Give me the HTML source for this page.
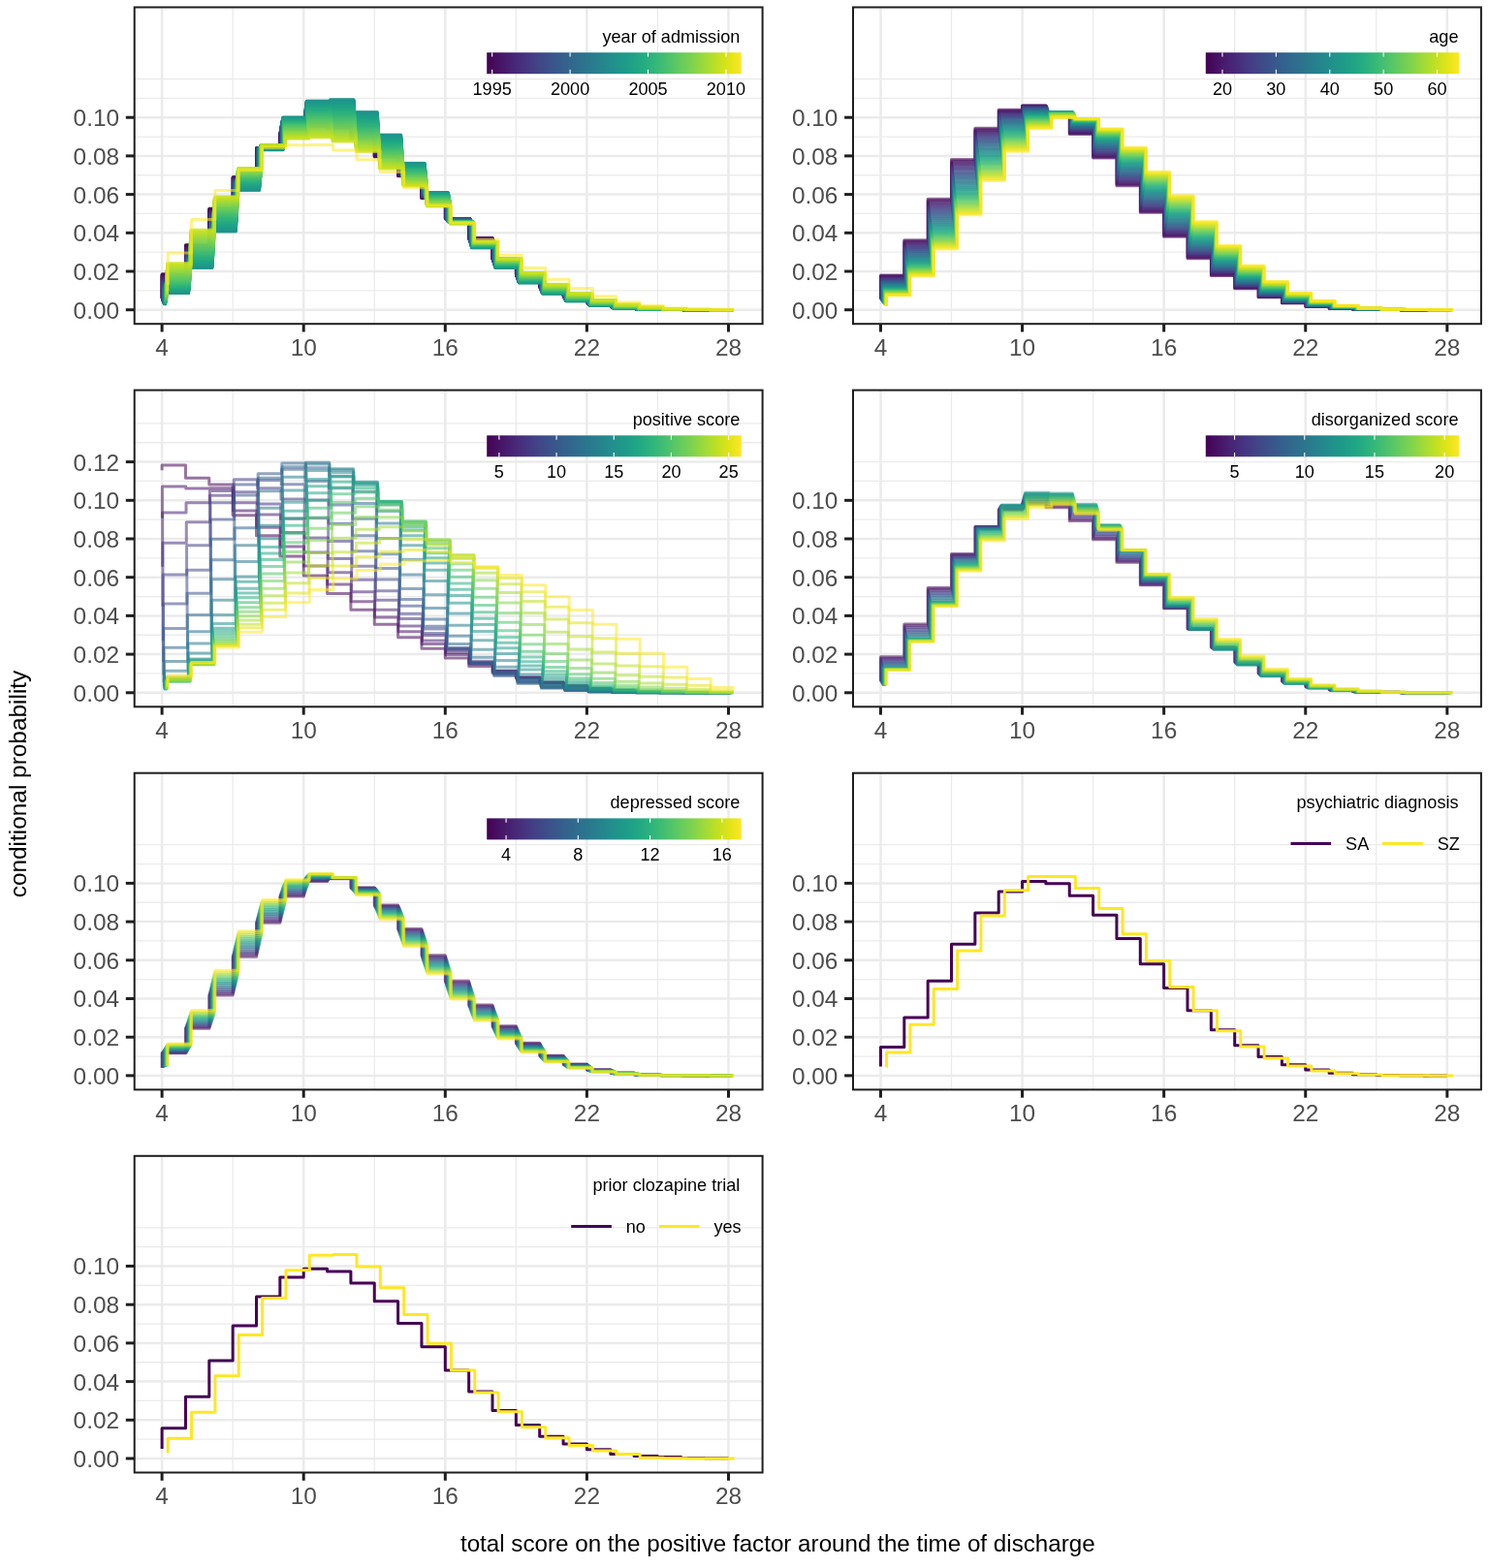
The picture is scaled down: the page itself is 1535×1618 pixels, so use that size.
<!DOCTYPE html><html><head><meta charset="utf-8"><style>html,body{margin:0;padding:0;background:#fff;}svg{display:block}</style></head><body>
<svg width="1535" height="1618" viewBox="0 0 1535 1618" font-family="'Liberation Sans', Arial, Helvetica, sans-serif">
<defs><linearGradient id="vir" x1="0" x2="1" y1="0" y2="0">
<stop offset="0.000" stop-color="#440154"/>
<stop offset="0.050" stop-color="#471365"/>
<stop offset="0.100" stop-color="#482475"/>
<stop offset="0.150" stop-color="#463480"/>
<stop offset="0.200" stop-color="#414487"/>
<stop offset="0.250" stop-color="#3B528B"/>
<stop offset="0.300" stop-color="#355F8D"/>
<stop offset="0.350" stop-color="#2F6C8E"/>
<stop offset="0.400" stop-color="#2A788E"/>
<stop offset="0.450" stop-color="#25848E"/>
<stop offset="0.500" stop-color="#21918C"/>
<stop offset="0.550" stop-color="#1E9C89"/>
<stop offset="0.600" stop-color="#22A884"/>
<stop offset="0.650" stop-color="#2FB47C"/>
<stop offset="0.700" stop-color="#44BF70"/>
<stop offset="0.750" stop-color="#5EC962"/>
<stop offset="0.800" stop-color="#7AD151"/>
<stop offset="0.850" stop-color="#9BD93C"/>
<stop offset="0.900" stop-color="#BDDF26"/>
<stop offset="0.950" stop-color="#DFE318"/>
<stop offset="1.000" stop-color="#FDE725"/>
</linearGradient>
<clipPath id="cp0"><rect x="138.70" y="7.50" width="647.90" height="326.70"/></clipPath>
<clipPath id="cp1"><rect x="880.00" y="7.50" width="647.90" height="326.70"/></clipPath>
<clipPath id="cp2"><rect x="138.70" y="402.60" width="647.90" height="326.70"/></clipPath>
<clipPath id="cp3"><rect x="880.00" y="402.60" width="647.90" height="326.70"/></clipPath>
<clipPath id="cp4"><rect x="138.70" y="797.70" width="647.90" height="326.70"/></clipPath>
<clipPath id="cp5"><rect x="880.00" y="797.70" width="647.90" height="326.70"/></clipPath>
<clipPath id="cp6"><rect x="138.70" y="1192.80" width="647.90" height="326.70"/></clipPath>
</defs>
<rect width="1535" height="1618" fill="#fff"/>
<g clip-path="url(#cp0)">
<line x1="138.70" x2="786.60" y1="299.85" y2="299.85" stroke="#EBEBEB" stroke-width="1.3"/>
<line x1="138.70" x2="786.60" y1="260.15" y2="260.15" stroke="#EBEBEB" stroke-width="1.3"/>
<line x1="138.70" x2="786.60" y1="220.45" y2="220.45" stroke="#EBEBEB" stroke-width="1.3"/>
<line x1="138.70" x2="786.60" y1="180.75" y2="180.75" stroke="#EBEBEB" stroke-width="1.3"/>
<line x1="138.70" x2="786.60" y1="141.05" y2="141.05" stroke="#EBEBEB" stroke-width="1.3"/>
<line x1="138.70" x2="786.60" y1="101.35" y2="101.35" stroke="#EBEBEB" stroke-width="1.3"/>
<line x1="138.70" x2="786.60" y1="81.50" y2="81.50" stroke="#EBEBEB" stroke-width="1.3"/>
<line x1="240.15" x2="240.15" y1="7.50" y2="334.20" stroke="#EBEBEB" stroke-width="1.3"/>
<line x1="386.25" x2="386.25" y1="7.50" y2="334.20" stroke="#EBEBEB" stroke-width="1.3"/>
<line x1="532.35" x2="532.35" y1="7.50" y2="334.20" stroke="#EBEBEB" stroke-width="1.3"/>
<line x1="678.45" x2="678.45" y1="7.50" y2="334.20" stroke="#EBEBEB" stroke-width="1.3"/>
<line x1="138.70" x2="786.60" y1="319.70" y2="319.70" stroke="#EBEBEB" stroke-width="2.5"/>
<line x1="138.70" x2="786.60" y1="280.00" y2="280.00" stroke="#EBEBEB" stroke-width="2.5"/>
<line x1="138.70" x2="786.60" y1="240.30" y2="240.30" stroke="#EBEBEB" stroke-width="2.5"/>
<line x1="138.70" x2="786.60" y1="200.60" y2="200.60" stroke="#EBEBEB" stroke-width="2.5"/>
<line x1="138.70" x2="786.60" y1="160.90" y2="160.90" stroke="#EBEBEB" stroke-width="2.5"/>
<line x1="138.70" x2="786.60" y1="121.20" y2="121.20" stroke="#EBEBEB" stroke-width="2.5"/>
<line x1="167.10" x2="167.10" y1="7.50" y2="334.20" stroke="#EBEBEB" stroke-width="2.5"/>
<line x1="313.20" x2="313.20" y1="7.50" y2="334.20" stroke="#EBEBEB" stroke-width="2.5"/>
<line x1="459.30" x2="459.30" y1="7.50" y2="334.20" stroke="#EBEBEB" stroke-width="2.5"/>
<line x1="605.40" x2="605.40" y1="7.50" y2="334.20" stroke="#EBEBEB" stroke-width="2.5"/>
<line x1="751.50" x2="751.50" y1="7.50" y2="334.20" stroke="#EBEBEB" stroke-width="2.5"/>
<text x="763.30" y="43.80" font-size="18.1" text-anchor="end" fill="#000">year of admission</text>
<rect x="502.20" y="54.20" width="262.50" height="22.00" fill="url(#vir)"/>
<line x1="507.67" x2="507.67" y1="54.20" y2="58.60" stroke="#fff" stroke-width="1.1"/>
<line x1="507.67" x2="507.67" y1="71.80" y2="76.20" stroke="#fff" stroke-width="1.1"/>
<text x="507.67" y="97.90" font-size="18.1" text-anchor="middle" fill="#000">1995</text>
<line x1="588.09" x2="588.09" y1="54.20" y2="58.60" stroke="#fff" stroke-width="1.1"/>
<line x1="588.09" x2="588.09" y1="71.80" y2="76.20" stroke="#fff" stroke-width="1.1"/>
<text x="588.09" y="97.90" font-size="18.1" text-anchor="middle" fill="#000">2000</text>
<line x1="668.51" x2="668.51" y1="54.20" y2="58.60" stroke="#fff" stroke-width="1.1"/>
<line x1="668.51" x2="668.51" y1="71.80" y2="76.20" stroke="#fff" stroke-width="1.1"/>
<text x="668.51" y="97.90" font-size="18.1" text-anchor="middle" fill="#000">2005</text>
<line x1="748.94" x2="748.94" y1="54.20" y2="58.60" stroke="#fff" stroke-width="1.1"/>
<line x1="748.94" x2="748.94" y1="71.80" y2="76.20" stroke="#fff" stroke-width="1.1"/>
<text x="748.94" y="97.90" font-size="18.1" text-anchor="middle" fill="#000">2010</text>
<g fill="none" stroke-width="3.00" stroke-linejoin="round" stroke-opacity="0.55"><path d="M167.10 307.41V282.72H191.45V252.61H215.80V215.09H240.15V182.73H264.50V152.96H288.85V138.44H313.20V130.93H337.55V132.89H361.90V143.06H386.25V161.89H410.60V181.74H434.95V204.57H459.30V225.41H483.65V245.46H508.00V266.91H532.35V282.89H556.70V295.48H581.05V304.82H605.40V311.27H629.75V315.40H654.10V317.78H678.45V318.99H702.80V319.50H727.15V319.67H751.50" stroke="#440154"/><path d="M167.14 307.56V283.03H191.49V252.94H215.84V215.38H240.19V182.86H264.54V152.93H288.89V138.19H313.24V130.58H337.59V132.51H361.94V142.72H386.29V161.60H410.64V181.56H434.99V204.47H459.34V225.43H483.69V245.57H508.04V267.02H532.39V283.01H556.74V295.59H581.09V304.91H605.44V311.34H629.79V315.45H654.14V317.81H678.49V319.00H702.84V319.51H727.19V319.67H751.54" stroke="#440256"/><path d="M167.18 307.71V283.34H191.53V253.28H215.88V215.67H240.23V182.99H264.58V152.91H288.93V137.94H313.28V130.23H337.63V132.13H361.98V142.37H386.33V161.30H410.68V181.37H435.03V204.38H459.38V225.44H483.73V245.68H508.08V267.13H532.43V283.13H556.78V295.70H581.13V305.01H605.48V311.41H629.83V315.49H654.18V317.84H678.53V319.02H702.88V319.51H727.23V319.67H751.58" stroke="#450559"/><path d="M167.21 307.86V283.66H191.56V253.61H215.91V215.96H240.26V183.12H264.61V152.88H288.96V137.69H313.31V129.87H337.66V131.75H362.01V142.03H386.36V161.01H410.71V181.19H435.06V204.28H459.41V225.46H483.76V245.79H508.11V267.25H532.46V283.24H556.81V295.81H581.16V305.10H605.51V311.48H629.86V315.54H654.21V317.87H678.56V319.03H702.91V319.52H727.26V319.67H751.61" stroke="#46075A"/><path d="M167.25 308.00V283.97H191.60V253.94H215.95V216.25H240.30V183.26H264.65V152.86H289.00V137.44H313.35V129.52H337.70V131.37H362.05V141.68H386.40V160.72H410.75V181.00H435.10V204.18H459.45V225.47H483.80V245.90H508.15V267.36H532.50V283.36H556.85V295.92H581.20V305.20H605.55V311.55H629.90V315.59H654.25V317.90H678.60V319.04H702.95V319.52H727.30V319.67H751.65" stroke="#460A5D"/><path d="M167.29 308.15V284.27H191.64V254.27H215.99V216.54H240.34V183.39H264.69V152.84H289.04V137.19H313.39V129.17H337.74V130.99H362.09V141.34H386.44V160.42H410.79V180.82H435.14V204.09H459.49V225.49H483.84V246.01H508.19V267.47H532.54V283.48H556.89V296.03H581.24V305.29H605.59V311.62H629.94V315.64H654.29V317.92H678.64V319.06H702.99V319.53H727.34V319.67H751.69" stroke="#460B5E"/><path d="M167.33 308.29V284.58H191.68V254.60H216.03V216.83H240.38V183.53H264.73V152.82H289.08V136.94H313.43V128.82H337.78V130.61H362.13V140.99H386.48V160.13H410.83V180.63H435.18V204.00H459.53V225.51H483.88V246.12H508.23V267.58H532.58V283.60H556.93V296.14H581.28V305.39H605.63V311.69H629.98V315.69H654.33V317.95H678.68V319.07H703.03V319.53H727.38V319.67H751.73" stroke="#470E61"/><path d="M167.36 308.43V284.88H191.71V254.94H216.06V217.12H240.41V183.66H264.76V152.80H289.11V136.70H313.46V128.47H337.81V130.22H362.16V140.65H386.51V159.84H410.86V180.45H435.21V203.90H459.56V225.53H483.91V246.23H508.26V267.69H532.61V283.71H556.96V296.25H581.31V305.48H605.66V311.75H630.01V315.73H654.36V317.98H678.71V319.08H703.06V319.53H727.41V319.67H751.76" stroke="#471164"/><path d="M167.40 308.57V285.19H191.75V255.26H216.10V217.41H240.45V183.80H264.80V152.78H289.15V136.45H313.50V128.12H337.85V129.84H362.20V140.30H386.55V159.55H410.90V180.27H435.25V203.81H459.60V225.54H483.95V246.34H508.30V267.80H532.65V283.83H557.00V296.36H581.35V305.57H605.70V311.82H630.05V315.78H654.40V318.01H678.75V319.09H703.10V319.54H727.45V319.68H751.80" stroke="#471365"/><path d="M167.44 308.71V285.49H191.79V255.59H216.14V217.70H240.49V183.94H264.84V152.77H289.19V136.20H313.54V127.77H337.89V129.46H362.24V139.96H386.59V159.25H410.94V180.09H435.29V203.72H459.64V225.56H483.99V246.45H508.34V267.92H532.69V283.95H557.04V296.46H581.39V305.66H605.74V311.89H630.09V315.82H654.44V318.03H678.79V319.10H703.14V319.54H727.49V319.68H751.84" stroke="#481668"/><path d="M167.48 308.84V285.79H191.83V255.92H216.18V218.00H240.53V184.08H264.88V152.75H289.23V135.96H313.58V127.42H337.93V129.08H362.28V139.62H386.63V158.96H410.98V179.90H435.33V203.63H459.68V225.58H484.03V246.57H508.38V268.03H532.73V284.07H557.08V296.57H581.43V305.76H605.78V311.95H630.13V315.87H654.48V318.06H678.83V319.11H703.18V319.55H727.53V319.68H751.88" stroke="#481769"/><path d="M167.51 308.98V286.08H191.86V256.25H216.21V218.29H240.56V184.22H264.91V152.74H289.26V135.72H313.61V127.07H337.96V128.70H362.31V139.27H386.66V158.67H411.01V179.72H435.36V203.54H459.71V225.61H484.06V246.68H508.41V268.14H532.76V284.18H557.11V296.68H581.46V305.85H605.81V312.02H630.16V315.91H654.51V318.08H678.86V319.13H703.21V319.55H727.56V319.68H751.91" stroke="#481A6C"/><path d="M167.55 309.11V286.38H191.90V256.57H216.25V218.58H240.60V184.36H264.95V152.72H289.30V135.47H313.65V126.73H338.00V128.32H362.35V138.93H386.70V158.38H411.05V179.54H435.40V203.45H459.75V225.63H484.10V246.80H508.45V268.26H532.80V284.30H557.15V296.78H581.50V305.94H605.85V312.08H630.20V315.96H654.55V318.11H678.90V319.14H703.25V319.55H727.60V319.68H751.95" stroke="#481B6D"/><path d="M167.59 309.24V286.67H191.94V256.90H216.29V218.88H240.64V184.50H264.99V152.71H289.34V135.23H313.69V126.38H338.04V127.94H362.39V138.58H386.74V158.08H411.09V179.36H435.44V203.36H459.79V225.65H484.14V246.91H508.49V268.37H532.84V284.42H557.19V296.89H581.54V306.03H605.89V312.14H630.24V316.00H654.59V318.14H678.94V319.15H703.29V319.56H727.64V319.68H751.99" stroke="#481D6F"/><path d="M167.63 309.37V286.96H191.98V257.22H216.33V219.17H240.68V184.64H265.03V152.70H289.38V134.99H313.73V126.03H338.08V127.56H362.43V138.24H386.78V157.79H411.13V179.18H435.48V203.27H459.83V225.67H484.18V247.03H508.53V268.49H532.88V284.53H557.23V297.00H581.58V306.11H605.93V312.21H630.28V316.04H654.63V318.16H678.98V319.16H703.33V319.56H727.68V319.68H752.03" stroke="#482071"/><path d="M167.66 309.49V287.25H192.01V257.55H216.36V219.47H240.71V184.79H265.06V152.69H289.41V134.75H313.76V125.68H338.11V127.18H362.46V137.89H386.81V157.50H411.16V179.00H435.51V203.18H459.86V225.70H484.21V247.14H508.56V268.60H532.91V284.65H557.26V297.10H581.61V306.20H605.96V312.27H630.31V316.08H654.66V318.18H679.01V319.17H703.36V319.56H727.71V319.68H752.06" stroke="#482173"/><path d="M167.70 309.62V287.54H192.05V257.87H216.40V219.76H240.75V184.94H265.10V152.68H289.45V134.51H313.80V125.34H338.15V126.80H362.50V137.55H386.85V157.21H411.20V178.82H435.55V203.09H459.90V225.72H484.25V247.26H508.60V268.71H532.95V284.77H557.30V297.21H581.65V306.29H606.00V312.33H630.35V316.12H654.70V318.21H679.05V319.18H703.40V319.57H727.75V319.68H752.10" stroke="#482475"/><path d="M167.74 309.75V287.83H192.09V258.19H216.44V220.06H240.79V185.08H265.14V152.68H289.49V134.27H313.84V124.99H338.19V126.42H362.54V137.21H386.89V156.92H411.24V178.64H435.59V203.01H459.94V225.75H484.29V247.38H508.64V268.83H532.99V284.89H557.34V297.31H581.69V306.38H606.04V312.39H630.39V316.17H654.74V318.23H679.09V319.19H703.44V319.57H727.79V319.68H752.14" stroke="#482576"/><path d="M167.78 309.87V288.11H192.13V258.51H216.48V220.35H240.83V185.23H265.18V152.67H289.53V134.04H313.88V124.65H338.23V126.04H362.58V136.86H386.93V156.63H411.28V178.46H435.63V202.92H459.98V225.77H484.33V247.49H508.68V268.94H533.03V285.00H557.38V297.41H581.73V306.47H606.08V312.45H630.43V316.21H654.78V318.26H679.13V319.20H703.48V319.57H727.83V319.68H752.18" stroke="#482878"/><path d="M167.81 309.99V288.39H192.16V258.83H216.51V220.65H240.86V185.38H265.21V152.67H289.56V133.80H313.91V124.30H338.26V125.66H362.61V136.52H386.96V156.34H411.31V178.29H435.66V202.83H460.01V225.80H484.36V247.61H508.71V269.06H533.06V285.12H557.41V297.52H581.76V306.55H606.11V312.51H630.46V316.25H654.81V318.28H679.16V319.21H703.51V319.57H727.86V319.68H752.21" stroke="#472A7A"/><path d="M167.85 310.11V288.67H192.20V259.15H216.55V220.94H240.90V185.53H265.25V152.66H289.60V133.57H313.95V123.95H338.30V125.28H362.65V136.17H387.00V156.05H411.35V178.11H435.70V202.75H460.05V225.83H484.40V247.73H508.75V269.18H533.10V285.23H557.45V297.62H581.80V306.64H606.15V312.57H630.50V316.29H654.85V318.30H679.20V319.22H703.55V319.58H727.90V319.68H752.25" stroke="#472C7A"/><path d="M167.89 310.23V288.95H192.24V259.47H216.59V221.24H240.94V185.68H265.29V152.66H289.64V133.33H313.99V123.61H338.34V124.90H362.69V135.83H387.04V155.76H411.39V177.93H435.74V202.67H460.09V225.86H484.44V247.85H508.79V269.29H533.14V285.35H557.49V297.72H581.84V306.72H606.19V312.63H630.54V316.32H654.89V318.32H679.24V319.23H703.59V319.58H727.94V319.68H752.29" stroke="#472E7C"/><path d="M167.93 310.35V289.23H192.28V259.79H216.63V221.54H240.98V185.84H265.33V152.66H289.68V133.10H314.03V123.27H338.38V124.53H362.73V135.49H387.08V155.47H411.43V177.76H435.78V202.58H460.13V225.89H484.48V247.97H508.83V269.41H533.18V285.47H557.53V297.83H581.88V306.81H606.23V312.68H630.58V316.36H654.93V318.35H679.28V319.24H703.63V319.58H727.98V319.68H752.33" stroke="#472F7D"/><path d="M167.96 310.46V289.50H192.31V260.10H216.66V221.83H241.01V185.99H265.36V152.66H289.71V132.86H314.06V122.92H338.41V124.15H362.76V135.14H387.11V155.18H411.46V177.58H435.81V202.50H460.16V225.91H484.51V248.09H508.86V269.52H533.21V285.58H557.56V297.93H581.91V306.89H606.26V312.74H630.61V316.40H654.96V318.37H679.31V319.25H703.66V319.59H728.01V319.68H752.36" stroke="#46327E"/><path d="M168.00 310.58V289.78H192.35V260.42H216.70V222.13H241.05V186.15H265.40V152.67H289.75V132.63H314.10V122.58H338.45V123.77H362.80V134.80H387.15V154.89H411.50V177.41H435.85V202.42H460.20V225.95H484.55V248.21H508.90V269.64H533.25V285.70H557.60V298.03H581.95V306.97H606.30V312.80H630.65V316.44H655.00V318.39H679.35V319.25H703.70V319.59H728.05V319.68H752.40" stroke="#46337F"/><path d="M168.04 310.69V290.05H192.39V260.73H216.74V222.43H241.09V186.30H265.44V152.67H289.79V132.40H314.14V122.24H338.49V123.39H362.84V134.45H387.19V154.60H411.54V177.23H435.89V202.34H460.24V225.98H484.59V248.33H508.94V269.76H533.29V285.81H557.64V298.13H581.99V307.06H606.34V312.85H630.69V316.48H655.04V318.41H679.39V319.26H703.74V319.59H728.09V319.68H752.44" stroke="#453581"/><path d="M168.08 310.80V290.32H192.43V261.04H216.78V222.73H241.13V186.46H265.48V152.67H289.83V132.17H314.18V121.90H338.53V123.01H362.88V134.11H387.23V154.31H411.58V177.06H435.93V202.26H460.28V226.01H484.63V248.46H508.98V269.87H533.33V285.93H557.68V298.23H582.03V307.14H606.38V312.91H630.73V316.51H655.08V318.43H679.43V319.27H703.78V319.59H728.13V319.69H752.48" stroke="#453882"/><path d="M168.11 310.91V290.58H192.46V261.36H216.81V223.03H241.16V186.62H265.51V152.68H289.86V131.94H314.21V121.55H338.56V122.63H362.91V133.77H387.26V154.02H411.61V176.88H435.96V202.18H460.31V226.04H484.66V248.58H509.01V269.99H533.36V286.05H557.71V298.33H582.06V307.22H606.41V312.96H630.76V316.55H655.11V318.45H679.46V319.28H703.81V319.60H728.16V319.69H752.51" stroke="#443983"/><path d="M168.15 311.02V290.85H192.50V261.67H216.85V223.32H241.20V186.78H265.55V152.69H289.90V131.71H314.25V121.21H338.60V122.25H362.95V133.42H387.30V153.73H411.65V176.71H436.00V202.10H460.35V226.07H484.70V248.70H509.05V270.11H533.40V286.16H557.75V298.43H582.10V307.30H606.45V313.02H630.80V316.58H655.15V318.47H679.50V319.29H703.85V319.60H728.20V319.69H752.55" stroke="#443B84"/><path d="M168.19 311.13V291.12H192.54V261.98H216.89V223.62H241.24V186.94H265.59V152.69H289.94V131.49H314.29V120.87H338.64V121.87H362.99V133.08H387.34V153.45H411.69V176.54H436.04V202.02H460.39V226.11H484.74V248.82H509.09V270.23H533.44V286.28H557.79V298.53H582.14V307.38H606.49V313.07H630.84V316.62H655.19V318.49H679.54V319.30H703.89V319.60H728.24V319.69H752.59" stroke="#433D84"/><path d="M168.23 311.23V291.38H192.58V262.29H216.93V223.92H241.28V187.10H265.63V152.70H289.98V131.26H314.33V120.53H338.68V121.50H363.03V132.74H387.38V153.16H411.73V176.36H436.08V201.94H460.43V226.14H484.78V248.95H509.13V270.34H533.48V286.39H557.83V298.63H582.18V307.46H606.53V313.12H630.88V316.66H655.23V318.51H679.58V319.30H703.93V319.60H728.28V319.69H752.63" stroke="#423F85"/><path d="M168.27 311.34V291.64H192.62V262.60H216.97V224.22H241.32V187.26H265.67V152.71H290.02V131.04H314.37V120.19H338.72V121.12H363.07V132.39H387.42V152.87H411.77V176.19H436.12V201.86H460.47V226.18H484.82V249.07H509.17V270.46H533.52V286.51H557.87V298.73H582.22V307.54H606.57V313.18H630.92V316.69H655.27V318.53H679.62V319.31H703.97V319.61H728.32V319.69H752.67" stroke="#424186"/><path d="M168.30 311.44V291.90H192.65V262.90H217.00V224.52H241.35V187.42H265.70V152.73H290.05V130.81H314.40V119.85H338.75V120.74H363.10V132.05H387.45V152.58H411.80V176.02H436.15V201.79H460.50V226.21H484.85V249.20H509.20V270.58H533.55V286.62H557.90V298.83H582.25V307.62H606.60V313.23H630.95V316.72H655.30V318.55H679.65V319.32H704.00V319.61H728.35V319.69H752.70" stroke="#414287"/><path d="M168.34 311.55V292.16H192.69V263.21H217.04V224.82H241.39V187.59H265.74V152.74H290.09V130.59H314.44V119.52H338.79V120.36H363.14V131.71H387.49V152.30H411.84V175.85H436.19V201.71H460.54V226.25H484.89V249.32H509.24V270.70H533.59V286.73H557.94V298.92H582.29V307.70H606.64V313.28H630.99V316.76H655.34V318.57H679.69V319.33H704.04V319.61H728.39V319.69H752.74" stroke="#404588"/><path d="M168.38 311.65V292.41H192.73V263.52H217.08V225.12H241.43V187.75H265.78V152.75H290.13V130.37H314.48V119.18H338.83V119.99H363.18V131.36H387.53V152.01H411.88V175.68H436.23V201.63H460.58V226.29H484.93V249.45H509.28V270.81H533.63V286.85H557.98V299.02H582.33V307.77H606.68V313.33H631.03V316.79H655.38V318.59H679.73V319.34H704.08V319.61H728.43V319.69H752.78" stroke="#404688"/><path d="M168.42 311.75V292.67H192.77V263.82H217.12V225.41H241.47V187.92H265.82V152.77H290.17V130.14H314.52V118.84H338.87V119.61H363.22V131.02H387.57V151.72H411.92V175.51H436.27V201.56H460.62V226.32H484.97V249.58H509.32V270.93H533.67V286.96H558.02V299.12H582.37V307.85H606.72V313.38H631.07V316.82H655.42V318.60H679.77V319.34H704.12V319.61H728.47V319.69H752.82" stroke="#3F4889"/><path d="M168.45 311.85V292.92H192.80V264.12H217.15V225.71H241.50V188.08H265.85V152.78H290.20V129.92H314.55V118.50H338.90V119.23H363.25V130.68H387.60V151.44H411.95V175.34H436.30V201.48H460.65V226.36H485.00V249.70H509.35V271.05H533.70V287.08H558.05V299.21H582.40V307.93H606.75V313.43H631.10V316.85H655.45V318.62H679.80V319.35H704.15V319.62H728.50V319.69H752.85" stroke="#3E4989"/><path d="M168.49 311.94V293.17H192.84V264.43H217.19V226.01H241.54V188.25H265.89V152.80H290.24V129.70H314.59V118.17H338.94V118.86H363.29V130.34H387.64V151.15H411.99V175.17H436.34V201.41H460.69V226.40H485.04V249.83H509.39V271.17H533.74V287.19H558.09V299.31H582.44V308.00H606.79V313.48H631.14V316.89H655.49V318.64H679.84V319.36H704.19V319.62H728.54V319.69H752.89" stroke="#3E4C8A"/><path d="M168.53 312.04V293.42H192.88V264.73H217.23V226.31H241.58V188.42H265.93V152.82H290.28V129.49H314.63V117.83H338.98V118.48H363.33V129.99H387.68V150.86H412.03V175.00H436.38V201.34H460.73V226.44H485.08V249.96H509.43V271.29H533.78V287.30H558.13V299.40H582.48V308.08H606.83V313.53H631.18V316.92H655.53V318.66H679.88V319.36H704.23V319.62H728.58V319.69H752.93" stroke="#3D4E8A"/><path d="M168.57 312.14V293.66H192.92V265.03H217.27V226.61H241.62V188.59H265.97V152.84H290.32V129.27H314.67V117.49H339.02V118.10H363.37V129.65H387.72V150.58H412.07V174.83H436.42V201.27H460.77V226.48H485.12V250.09H509.47V271.41H533.82V287.42H558.17V299.50H582.52V308.15H606.87V313.58H631.22V316.95H655.57V318.67H679.92V319.37H704.27V319.62H728.62V319.69H752.97" stroke="#3C4F8A"/><path d="M168.60 312.23V293.91H192.95V265.33H217.30V226.91H241.65V188.76H266.00V152.86H290.35V129.05H314.70V117.16H339.05V117.73H363.40V129.31H387.75V150.29H412.10V174.67H436.45V201.20H460.80V226.52H485.15V250.21H509.50V271.53H533.85V287.53H558.20V299.59H582.55V308.23H606.90V313.62H631.25V316.98H655.60V318.69H679.95V319.38H704.30V319.62H728.65V319.69H753.00" stroke="#3B518B"/><path d="M168.64 312.32V294.15H192.99V265.62H217.34V227.21H241.69V188.93H266.04V152.88H290.39V128.83H314.74V116.82H339.09V117.35H363.44V128.97H387.79V150.01H412.14V174.50H436.49V201.12H460.84V226.56H485.19V250.34H509.54V271.65H533.89V287.64H558.24V299.69H582.59V308.30H606.94V313.67H631.29V317.01H655.64V318.71H679.99V319.38H704.34V319.63H728.69V319.69H753.04" stroke="#3B528B"/><path d="M168.68 312.41V294.40H193.03V265.92H217.38V227.51H241.73V189.10H266.08V152.91H290.43V128.62H314.78V116.49H339.13V116.98H363.48V128.63H387.83V149.72H412.18V174.33H436.53V201.05H460.88V226.60H485.23V250.47H509.58V271.77H533.93V287.75H558.28V299.78H582.63V308.37H606.98V313.72H631.33V317.04H655.68V318.72H680.03V319.39H704.38V319.63H728.73V319.69H753.08" stroke="#3A548C"/><path d="M168.72 312.50V294.64H193.07V266.22H217.42V227.81H241.77V189.28H266.12V152.93H290.47V128.41H314.82V116.16H339.17V116.60H363.52V128.28H387.87V149.44H412.22V174.17H436.57V200.98H460.92V226.65H485.27V250.60H509.62V271.88H533.97V287.87H558.32V299.87H582.67V308.44H607.02V313.76H631.37V317.07H655.72V318.74H680.07V319.40H704.42V319.63H728.77V319.69H753.12" stroke="#39558C"/><path d="M168.75 312.59V294.88H193.10V266.51H217.45V228.11H241.80V189.45H266.15V152.96H290.50V128.19H314.85V115.82H339.20V116.22H363.55V127.94H387.90V149.15H412.25V174.00H436.60V200.92H460.95V226.69H485.30V250.73H509.65V272.00H534.00V287.98H558.35V299.97H582.70V308.52H607.05V313.81H631.40V317.10H655.75V318.76H680.10V319.40H704.45V319.63H728.80V319.69H753.15" stroke="#38588C"/><path d="M168.79 312.68V295.11H193.14V266.81H217.49V228.41H241.84V189.63H266.19V152.99H290.54V127.98H314.89V115.49H339.24V115.85H363.59V127.60H387.94V148.87H412.29V173.84H436.64V200.85H460.99V226.73H485.34V250.86H509.69V272.12H534.04V288.09H558.39V300.06H582.74V308.59H607.09V313.85H631.44V317.13H655.79V318.77H680.14V319.41H704.49V319.63H728.84V319.69H753.19" stroke="#375A8C"/><path d="M168.83 312.77V295.35H193.18V267.10H217.53V228.71H241.88V189.80H266.23V153.01H290.58V127.77H314.93V115.16H339.28V115.47H363.63V127.26H387.98V148.59H412.33V173.67H436.68V200.78H461.03V226.78H485.38V250.99H509.73V272.24H534.08V288.20H558.43V300.15H582.78V308.66H607.13V313.90H631.48V317.15H655.83V318.79H680.18V319.41H704.53V319.63H728.88V319.69H753.23" stroke="#375B8D"/><path d="M168.87 312.86V295.58H193.22V267.39H217.57V229.01H241.92V189.98H266.27V153.04H290.62V127.56H314.97V114.83H339.32V115.10H363.67V126.92H388.02V148.30H412.37V173.51H436.72V200.71H461.07V226.82H485.42V251.12H509.77V272.36H534.12V288.31H558.47V300.24H582.82V308.73H607.17V313.94H631.52V317.18H655.87V318.80H680.22V319.42H704.57V319.64H728.92V319.69H753.27" stroke="#365D8D"/><path d="M168.90 312.94V295.82H193.25V267.68H217.60V229.31H241.95V190.16H266.30V153.07H290.65V127.35H315.00V114.50H339.35V114.73H363.70V126.58H388.05V148.02H412.40V173.35H436.75V200.65H461.10V226.87H485.45V251.26H509.80V272.48H534.15V288.42H558.50V300.33H582.85V308.80H607.20V313.98H631.55V317.21H655.90V318.82H680.25V319.42H704.60V319.64H728.95V319.69H753.30" stroke="#355E8D"/><path d="M168.94 313.03V296.05H193.29V267.97H217.64V229.61H241.99V190.34H266.34V153.11H290.69V127.14H315.04V114.17H339.39V114.35H363.74V126.24H388.09V147.74H412.44V173.18H436.79V200.58H461.14V226.92H485.49V251.39H509.84V272.60H534.19V288.54H558.54V300.42H582.89V308.86H607.24V314.03H631.59V317.24H655.94V318.83H680.29V319.43H704.64V319.64H728.99V319.69H753.34" stroke="#34608D"/><path d="M168.98 313.11V296.28H193.33V268.26H217.68V229.91H242.03V190.51H266.38V153.14H290.73V126.94H315.08V113.84H339.43V113.98H363.78V125.90H388.13V147.46H412.48V173.02H436.83V200.52H461.18V226.96H485.53V251.52H509.88V272.72H534.23V288.65H558.58V300.51H582.93V308.93H607.28V314.07H631.63V317.26H655.98V318.85H680.33V319.44H704.68V319.64H729.03V319.69H753.38" stroke="#33628D"/><path d="M169.02 313.19V296.50H193.37V268.55H217.72V230.21H242.07V190.69H266.42V153.17H290.77V126.73H315.12V113.51H339.47V113.60H363.82V125.56H388.17V147.17H412.52V172.86H436.87V200.45H461.22V227.01H485.57V251.65H509.92V272.84H534.27V288.76H558.62V300.60H582.97V309.00H607.32V314.11H631.67V317.29H656.02V318.86H680.37V319.44H704.72V319.64H729.07V319.69H753.42" stroke="#33638D"/><path d="M169.05 313.27V296.73H193.40V268.83H217.75V230.51H242.10V190.88H266.45V153.21H290.80V126.52H315.15V113.18H339.50V113.23H363.85V125.21H388.20V146.89H412.55V172.70H436.90V200.39H461.25V227.06H485.60V251.79H509.95V272.96H534.30V288.87H558.65V300.69H583.00V309.07H607.35V314.15H631.70V317.31H656.05V318.87H680.40V319.45H704.75V319.64H729.10V319.69H753.45" stroke="#32658E"/><path d="M169.09 313.35V296.95H193.44V269.12H217.79V230.81H242.14V191.06H266.49V153.24H290.84V126.32H315.19V112.85H339.54V112.86H363.89V124.87H388.24V146.61H412.59V172.54H436.94V200.33H461.29V227.11H485.64V251.92H509.99V273.08H534.34V288.98H558.69V300.77H583.04V309.13H607.39V314.19H631.74V317.34H656.09V318.89H680.44V319.45H704.79V319.64H729.14V319.69H753.49" stroke="#31668E"/><path d="M169.13 313.43V297.18H193.48V269.40H217.83V231.11H242.18V191.24H266.53V153.28H290.88V126.12H315.23V112.53H339.58V112.48H363.93V124.53H388.28V146.33H412.63V172.38H436.98V200.26H461.33V227.16H485.68V252.06H510.03V273.20H534.38V289.08H558.73V300.86H583.08V309.20H607.43V314.23H631.78V317.36H656.13V318.90H680.48V319.46H704.83V319.65H729.18V319.69H753.53" stroke="#31688E"/><path d="M169.17 313.51V297.40H193.52V269.68H217.87V231.41H242.22V191.42H266.57V153.32H290.92V125.91H315.27V112.20H339.62V112.11H363.97V124.19H388.32V146.05H412.67V172.22H437.02V200.20H461.37V227.21H485.72V252.19H510.07V273.32H534.42V289.19H558.77V300.95H583.12V309.27H607.47V314.27H631.82V317.39H656.17V318.92H680.52V319.46H704.87V319.65H729.22V319.69H753.57" stroke="#30698E"/><path d="M169.20 313.59V297.62H193.55V269.96H217.90V231.70H242.25V191.61H266.60V153.36H290.95V125.71H315.30V111.87H339.65V111.74H364.00V123.86H388.35V145.77H412.70V172.06H437.05V200.14H461.40V227.26H485.75V252.32H510.10V273.44H534.45V289.30H558.80V301.03H583.15V309.33H607.50V314.31H631.85V317.41H656.20V318.93H680.55V319.47H704.90V319.65H729.25V319.69H753.60" stroke="#2F6B8E"/><path d="M169.24 313.66V297.84H193.59V270.25H217.94V232.00H242.29V191.79H266.64V153.40H290.99V125.51H315.34V111.55H339.69V111.37H364.04V123.52H388.39V145.49H412.74V171.90H437.09V200.08H461.44V227.31H485.79V252.46H510.14V273.56H534.49V289.41H558.84V301.12H583.19V309.39H607.54V314.35H631.89V317.44H656.24V318.94H680.59V319.47H704.94V319.65H729.29V319.69H753.64" stroke="#2E6D8E"/><path d="M169.28 313.74V298.05H193.63V270.52H217.98V232.30H242.33V191.98H266.68V153.44H291.03V125.31H315.38V111.22H339.73V111.00H364.08V123.18H388.43V145.21H412.78V171.74H437.13V200.02H461.48V227.36H485.83V252.59H510.18V273.68H534.53V289.52H558.88V301.21H583.23V309.46H607.58V314.39H631.93V317.46H656.28V318.95H680.63V319.48H704.98V319.65H729.33V319.69H753.68" stroke="#2E6E8E"/><path d="M169.32 313.81V298.27H193.67V270.80H218.02V232.60H242.37V192.16H266.72V153.49H291.07V125.11H315.42V110.90H339.77V110.62H364.12V122.84H388.47V144.93H412.82V171.58H437.17V199.96H461.52V227.41H485.87V252.73H510.22V273.80H534.57V289.63H558.92V301.29H583.27V309.52H607.62V314.42H631.97V317.48H656.32V318.97H680.67V319.48H705.02V319.65H729.37V319.69H753.72" stroke="#2D708E"/><path d="M169.36 313.88V298.48H193.71V271.08H218.06V232.90H242.41V192.35H266.76V153.53H291.11V124.92H315.46V110.58H339.81V110.25H364.16V122.50H388.51V144.65H412.86V171.42H437.21V199.90H461.56V227.47H485.91V252.87H510.26V273.92H534.61V289.73H558.96V301.38H583.31V309.58H607.66V314.46H632.01V317.51H656.36V318.98H680.71V319.48H705.06V319.65H729.41V319.69H753.76" stroke="#2D718E"/><path d="M169.39 313.96V298.69H193.74V271.36H218.09V233.20H242.44V192.54H266.79V153.58H291.14V124.72H315.49V110.25H339.84V109.88H364.19V122.16H388.54V144.37H412.89V171.27H437.24V199.84H461.59V227.52H485.94V253.00H510.29V274.04H534.64V289.84H558.99V301.46H583.34V309.65H607.69V314.50H632.04V317.53H656.39V318.99H680.74V319.49H705.09V319.65H729.44V319.69H753.79" stroke="#2C728E"/><path d="M169.43 314.03V298.91H193.78V271.63H218.13V233.50H242.48V192.73H266.83V153.62H291.18V124.52H315.53V109.93H339.88V109.51H364.23V121.82H388.58V144.09H412.93V171.11H437.28V199.79H461.63V227.57H485.98V253.14H510.33V274.16H534.68V289.95H559.03V301.54H583.38V309.71H607.73V314.53H632.08V317.55H656.43V319.00H680.78V319.49H705.13V319.66H729.48V319.69H753.83" stroke="#2B748E"/><path d="M169.47 314.10V299.11H193.82V271.90H218.17V233.79H242.52V192.92H266.87V153.67H291.22V124.33H315.57V109.61H339.92V109.14H364.27V121.48H388.62V143.81H412.97V170.96H437.32V199.73H461.67V227.63H486.02V253.28H510.37V274.28H534.72V290.05H559.07V301.63H583.42V309.77H607.77V314.57H632.12V317.57H656.47V319.01H680.82V319.50H705.17V319.66H729.52V319.69H753.87" stroke="#2B758E"/><path d="M169.51 314.17V299.32H193.86V272.18H218.21V234.09H242.56V193.11H266.91V153.72H291.26V124.14H315.61V109.29H339.96V108.77H364.31V121.15H388.66V143.53H413.01V170.80H437.36V199.67H461.71V227.68H486.06V253.41H510.41V274.40H534.76V290.16H559.11V301.71H583.46V309.83H607.81V314.61H632.16V317.59H656.51V319.03H680.86V319.50H705.21V319.66H729.56V319.70H753.91" stroke="#2A778E"/><path d="M169.54 314.24V299.53H193.89V272.45H218.24V234.39H242.59V193.30H266.94V153.77H291.29V123.94H315.64V108.97H339.99V108.40H364.34V120.81H388.69V143.26H413.04V170.65H437.39V199.62H461.74V227.74H486.09V253.55H510.44V274.52H534.79V290.27H559.14V301.79H583.49V309.89H607.84V314.64H632.19V317.62H656.54V319.04H680.89V319.51H705.24V319.66H729.59V319.70H753.94" stroke="#2A788E"/><path d="M169.58 314.30V299.73H193.93V272.72H218.28V234.69H242.63V193.49H266.98V153.82H291.33V123.75H315.68V108.65H340.03V108.03H364.38V120.47H388.73V142.98H413.08V170.49H437.43V199.56H461.78V227.80H486.13V253.69H510.48V274.64H534.83V290.37H559.18V301.87H583.53V309.95H607.88V314.67H632.23V317.64H656.58V319.05H680.93V319.51H705.28V319.66H729.63V319.70H753.98" stroke="#297A8E"/><path d="M169.62 314.37V299.94H193.97V272.99H218.32V234.98H242.67V193.68H267.02V153.87H291.37V123.56H315.72V108.33H340.07V107.66H364.42V120.13H388.77V142.70H413.12V170.34H437.47V199.51H461.82V227.85H486.17V253.83H510.52V274.76H534.87V290.48H559.22V301.95H583.57V310.00H607.92V314.71H632.27V317.66H656.62V319.06H680.97V319.51H705.32V319.66H729.67V319.70H754.02" stroke="#297B8E"/><path d="M169.66 314.44V300.14H194.01V273.26H218.36V235.28H242.71V193.87H267.06V153.92H291.41V123.37H315.76V108.01H340.11V107.30H364.46V119.80H388.81V142.43H413.16V170.18H437.51V199.46H461.86V227.91H486.21V253.97H510.56V274.88H534.91V290.58H559.26V302.03H583.61V310.06H607.96V314.74H632.31V317.68H656.66V319.07H681.01V319.52H705.36V319.66H729.71V319.70H754.06" stroke="#287D8E"/><path d="M169.69 314.50V300.34H194.04V273.52H218.39V235.58H242.74V194.07H267.09V153.98H291.44V123.18H315.79V107.69H340.14V106.93H364.49V119.46H388.84V142.15H413.19V170.03H437.54V199.40H461.89V227.97H486.24V254.10H510.59V275.00H534.94V290.69H559.29V302.11H583.64V310.12H607.99V314.77H632.34V317.70H656.69V319.08H681.04V319.52H705.39V319.66H729.74V319.70H754.09" stroke="#277F8E"/><path d="M169.73 314.57V300.54H194.08V273.79H218.43V235.87H242.78V194.26H267.13V154.03H291.48V123.00H315.83V107.37H340.18V106.56H364.53V119.12H388.88V141.87H413.23V169.88H437.58V199.35H461.93V228.02H486.28V254.24H510.63V275.12H534.98V290.79H559.33V302.19H583.68V310.18H608.03V314.81H632.38V317.72H656.73V319.09H681.08V319.52H705.43V319.66H729.78V319.70H754.13" stroke="#27808E"/><path d="M169.77 314.63V300.74H194.12V274.05H218.47V236.17H242.82V194.46H267.17V154.09H291.52V122.81H315.87V107.06H340.22V106.19H364.57V118.79H388.92V141.60H413.27V169.73H437.62V199.30H461.97V228.08H486.32V254.38H510.67V275.24H535.02V290.89H559.37V302.27H583.72V310.23H608.07V314.84H632.42V317.74H656.77V319.10H681.12V319.53H705.47V319.66H729.82V319.70H754.17" stroke="#26828E"/><path d="M169.81 314.69V300.93H194.16V274.31H218.51V236.47H242.86V194.65H267.21V154.15H291.56V122.62H315.91V106.74H340.26V105.82H364.61V118.45H388.96V141.32H413.31V169.58H437.66V199.25H462.01V228.14H486.36V254.52H510.71V275.36H535.06V291.00H559.41V302.35H583.76V310.29H608.11V314.87H632.46V317.76H656.81V319.11H681.16V319.53H705.51V319.67H729.86V319.70H754.21" stroke="#26828E"/><path d="M169.84 314.76V301.13H194.19V274.58H218.54V236.76H242.89V194.85H267.24V154.21H291.59V122.44H315.94V106.42H340.29V105.46H364.64V118.11H388.99V141.05H413.34V169.43H437.69V199.20H462.04V228.20H486.39V254.66H510.74V275.48H535.09V291.10H559.44V302.43H583.79V310.35H608.14V314.90H632.49V317.77H656.84V319.12H681.19V319.53H705.54V319.67H729.89V319.70H754.24" stroke="#25848E"/><path d="M169.88 314.82V301.32H194.23V274.84H218.58V237.06H242.93V195.04H267.28V154.27H291.63V122.26H315.98V106.11H340.33V105.09H364.68V117.78H389.03V140.77H413.38V169.28H437.73V199.15H462.08V228.26H486.43V254.80H510.78V275.60H535.13V291.20H559.48V302.50H583.83V310.40H608.18V314.93H632.53V317.79H656.88V319.13H681.23V319.54H705.58V319.67H729.93V319.70H754.28" stroke="#25858E"/><path d="M169.92 314.88V301.51H194.27V275.10H218.62V237.35H242.97V195.24H267.32V154.33H291.67V122.07H316.02V105.80H340.37V104.72H364.72V117.44H389.07V140.50H413.42V169.13H437.77V199.10H462.12V228.32H486.47V254.94H510.82V275.72H535.17V291.31H559.52V302.58H583.87V310.45H608.22V314.96H632.57V317.81H656.92V319.14H681.27V319.54H705.62V319.67H729.97V319.70H754.32" stroke="#24878E"/><path d="M169.96 314.94V301.70H194.31V275.36H218.66V237.65H243.01V195.44H267.36V154.39H291.71V121.89H316.06V105.48H340.41V104.36H364.76V117.11H389.11V140.22H413.46V168.98H437.81V199.05H462.16V228.39H486.51V255.08H510.86V275.84H535.21V291.41H559.56V302.66H583.91V310.51H608.26V314.99H632.61V317.83H656.96V319.15H681.31V319.54H705.66V319.67H730.01V319.70H754.36" stroke="#23898E"/><path d="M169.99 315.00V301.89H194.34V275.61H218.69V237.94H243.04V195.64H267.39V154.45H291.74V121.71H316.09V105.17H340.44V103.99H364.79V116.77H389.14V139.95H413.49V168.83H437.84V199.00H462.19V228.45H486.54V255.22H510.89V275.95H535.24V291.51H559.59V302.73H583.94V310.56H608.29V315.02H632.64V317.85H656.99V319.16H681.34V319.55H705.69V319.67H730.04V319.70H754.39" stroke="#238A8D"/><path d="M170.03 315.05V302.08H194.38V275.87H218.73V238.24H243.08V195.84H267.43V154.51H291.78V121.53H316.13V104.86H340.48V103.63H364.83V116.44H389.18V139.68H413.53V168.68H437.88V198.95H462.23V228.51H486.58V255.36H510.93V276.07H535.28V291.61H559.63V302.81H583.98V310.61H608.33V315.05H632.68V317.86H657.03V319.17H681.38V319.55H705.73V319.67H730.08V319.70H754.43" stroke="#228C8D"/><path d="M170.07 315.11V302.26H194.42V276.12H218.77V238.53H243.12V196.04H267.47V154.58H291.82V121.35H316.17V104.54H340.52V103.26H364.87V116.10H389.22V139.41H413.57V168.53H437.92V198.90H462.27V228.57H486.62V255.51H510.97V276.19H535.32V291.71H559.67V302.88H584.02V310.67H608.37V315.08H632.72V317.88H657.07V319.18H681.42V319.55H705.77V319.67H730.12V319.70H754.47" stroke="#228D8D"/><path d="M170.11 315.17V302.45H194.46V276.38H218.81V238.82H243.16V196.24H267.51V154.64H291.86V121.17H316.21V104.23H340.56V102.90H364.91V115.77H389.26V139.13H413.61V168.39H437.96V198.86H462.31V228.64H486.66V255.65H511.01V276.31H535.36V291.81H559.71V302.95H584.06V310.72H608.41V315.11H632.76V317.90H657.11V319.19H681.46V319.56H705.81V319.67H730.16V319.70H754.51" stroke="#218F8D"/><path d="M170.14 315.22V302.62H194.49V276.62H218.84V239.10H243.19V196.42H267.54V154.70H291.89V121.01H316.24V103.94H340.59V102.55H364.94V115.46H389.29V138.88H413.64V168.25H437.99V198.82H462.34V228.70H486.69V255.78H511.04V276.42H535.39V291.91H559.74V303.02H584.09V310.77H608.44V315.13H632.79V317.91H657.14V319.20H681.49V319.56H705.84V319.67H730.19V319.70H754.54" stroke="#21918C"/><path d="M170.18 315.12V302.34H194.53V276.14H218.88V238.55H243.23V195.98H267.58V154.50H291.93V121.21H316.28V104.42H340.63V103.17H364.98V116.06H389.33V139.39H413.68V168.59H438.03V199.00H462.38V228.70H486.73V255.67H511.08V276.27H535.43V291.77H559.78V302.92H584.13V310.69H608.48V315.09H632.83V317.89H657.18V319.18H681.53V319.56H705.88V319.67H730.23V319.70H754.58" stroke="#20928C"/><path d="M170.22 315.02V302.05H194.57V275.67H218.92V238.01H243.27V195.53H267.62V154.30H291.97V121.41H316.32V104.91H340.67V103.78H365.02V116.66H389.37V139.91H413.72V168.92H438.07V199.18H462.42V228.70H486.77V255.55H511.12V276.13H535.47V291.63H559.82V302.81H584.17V310.61H608.52V315.04H632.87V317.86H657.22V319.17H681.57V319.55H705.92V319.67H730.27V319.70H754.62" stroke="#20938C"/><path d="M170.26 314.91V301.75H194.61V275.19H218.96V237.46H243.31V195.09H267.66V154.10H292.01V121.62H316.36V105.40H340.71V104.39H365.06V117.26H389.41V140.43H413.76V169.26H438.11V199.36H462.46V228.70H486.81V255.43H511.16V275.98H535.51V291.49H559.86V302.69H584.21V310.53H608.56V315.00H632.91V317.83H657.26V319.16H681.61V319.55H705.96V319.67H730.31V319.70H754.66" stroke="#1F948C"/><path d="M170.29 314.80V301.46H194.64V274.70H218.99V236.92H243.34V194.65H267.69V153.90H292.04V121.83H316.39V105.89H340.74V105.01H365.09V117.86H389.44V140.95H413.79V169.59H438.14V199.55H462.49V228.71H486.84V255.32H511.19V275.83H535.54V291.35H559.89V302.58H584.24V310.45H608.59V314.95H632.94V317.81H657.29V319.14H681.64V319.54H705.99V319.67H730.34V319.70H754.69" stroke="#1F968B"/><path d="M170.33 314.69V301.15H194.68V274.22H219.03V236.37H243.38V194.21H267.73V153.71H292.08V122.05H316.43V106.38H340.78V105.63H365.13V118.46H389.48V141.46H413.83V169.93H438.18V199.73H462.53V228.71H486.88V255.20H511.23V275.68H535.58V291.21H559.93V302.47H584.28V310.36H608.63V314.90H632.98V317.78H657.33V319.13H681.68V319.54H706.03V319.67H730.38V319.70H754.73" stroke="#1F978B"/><path d="M170.37 314.58V300.85H194.72V273.73H219.07V235.82H243.42V193.78H267.77V153.53H292.12V122.27H316.47V106.88H340.82V106.25H365.17V119.06H389.52V141.98H413.87V170.27H438.22V199.92H462.57V228.72H486.92V255.09H511.27V275.53H535.62V291.06H559.97V302.36H584.32V310.28H608.67V314.85H633.02V317.75H657.37V319.11H681.72V319.53H706.07V319.67H730.42V319.70H754.77" stroke="#1F998A"/><path d="M170.41 314.46V300.53H194.76V273.23H219.11V235.27H243.46V193.35H267.81V153.35H292.16V122.50H316.51V107.38H340.86V106.86H365.21V119.66H389.56V142.50H413.91V170.61H438.26V200.10H462.61V228.72H486.96V254.97H511.31V275.38H535.66V290.92H560.01V302.24H584.36V310.20H608.71V314.80H633.06V317.72H657.41V319.10H681.76V319.53H706.11V319.66H730.46V319.70H754.81" stroke="#1E9B8A"/><path d="M170.45 314.34V300.22H194.80V272.73H219.15V234.72H243.50V192.92H267.85V153.17H292.20V122.72H316.55V107.88H340.90V107.49H365.25V120.27H389.60V143.02H413.95V170.95H438.30V200.29H462.65V228.73H487.00V254.86H511.35V275.22H535.70V290.78H560.05V302.12H584.40V310.11H608.75V314.75H633.10V317.69H657.45V319.08H681.80V319.52H706.15V319.66H730.50V319.70H754.85" stroke="#1E9C89"/><path d="M170.48 314.22V299.90H194.83V272.23H219.18V234.17H243.53V192.49H267.88V152.99H292.23V122.96H316.58V108.39H340.93V108.11H365.28V120.87H389.63V143.54H413.98V171.28H438.33V200.48H462.68V228.73H487.03V254.74H511.38V275.07H535.73V290.63H560.08V302.01H584.43V310.02H608.78V314.70H633.13V317.66H657.48V319.06H681.83V319.51H706.18V319.66H730.53V319.70H754.88" stroke="#1F9E89"/><path d="M170.52 314.10V299.57H194.87V271.72H219.22V233.62H243.57V192.06H267.92V152.82H292.27V123.19H316.62V108.90H340.97V108.73H365.32V121.47H389.67V144.06H414.02V171.62H438.37V200.67H462.72V228.74H487.07V254.63H511.42V274.92H535.77V290.48H560.12V301.89H584.47V309.93H608.82V314.65H633.17V317.63H657.52V319.05H681.87V319.51H706.22V319.66H730.57V319.70H754.92" stroke="#1F9F88"/><path d="M170.56 313.97V299.24H194.91V271.21H219.26V233.07H243.61V191.64H267.96V152.66H292.31V123.43H316.66V109.41H341.01V109.36H365.36V122.08H389.71V144.58H414.06V171.96H438.41V200.86H462.76V228.75H487.11V254.51H511.46V274.77H535.81V290.34H560.16V301.77H584.51V309.84H608.86V314.59H633.21V317.59H657.56V319.03H681.91V319.50H706.26V319.66H730.61V319.70H754.96" stroke="#1FA188"/><path d="M170.60 313.84V298.91H194.95V270.70H219.30V232.52H243.65V191.22H268.00V152.50H292.35V123.68H316.70V109.92H341.05V109.98H365.40V122.68H389.75V145.09H414.10V172.30H438.45V201.05H462.80V228.76H487.15V254.40H511.50V274.62H535.85V290.19H560.20V301.65H584.55V309.75H608.90V314.54H633.25V317.56H657.60V319.01H681.95V319.50H706.30V319.66H730.65V319.69H755.00" stroke="#1FA287"/><path d="M170.63 313.71V298.57H194.98V270.18H219.33V231.97H243.68V190.80H268.03V152.34H292.38V123.93H316.73V110.44H341.08V110.61H365.43V123.28H389.78V145.61H414.13V172.64H438.48V201.24H462.83V228.77H487.18V254.29H511.53V274.47H535.88V290.04H560.23V301.52H584.58V309.66H608.93V314.48H633.28V317.52H657.63V318.99H681.98V319.49H706.33V319.65H730.68V319.69H755.03" stroke="#20A386"/><path d="M170.67 313.57V298.22H195.02V269.66H219.37V231.41H243.72V190.39H268.07V152.19H292.42V124.18H316.77V110.95H341.12V111.24H365.47V123.89H389.82V146.13H414.17V172.98H438.52V201.43H462.87V228.78H487.22V254.18H511.57V274.32H535.92V289.89H560.27V301.40H584.62V309.57H608.97V314.42H633.32V317.49H657.67V318.98H682.02V319.48H706.37V319.65H730.72V319.69H755.07" stroke="#21A585"/><path d="M170.71 313.43V297.87H195.06V269.14H219.41V230.86H243.76V189.98H268.11V152.04H292.46V124.44H316.81V111.48H341.16V111.87H365.51V124.49H389.86V146.65H414.21V173.33H438.56V201.62H462.91V228.79H487.26V254.07H511.61V274.16H535.96V289.74H560.31V301.28H584.66V309.47H609.01V314.36H633.36V317.45H657.71V318.96H682.06V319.48H706.41V319.65H730.76V319.69H755.11" stroke="#21A685"/><path d="M170.75 313.29V297.52H195.10V268.61H219.45V230.31H243.80V189.57H268.15V151.90H292.50V124.70H316.85V112.00H341.20V112.50H365.55V125.10H389.90V147.17H414.25V173.67H438.60V201.81H462.95V228.81H487.30V253.95H511.65V274.01H536.00V289.59H560.35V301.15H584.70V309.38H609.05V314.31H633.40V317.42H657.75V318.94H682.10V319.47H706.45V319.65H730.80V319.69H755.15" stroke="#22A884"/><path d="M170.78 313.15V297.16H195.13V268.08H219.48V229.75H243.83V189.16H268.18V151.76H292.53V124.96H316.88V112.52H341.23V113.13H365.58V125.70H389.93V147.69H414.28V174.01H438.63V202.01H462.98V228.82H487.33V253.84H511.68V273.86H536.03V289.44H560.38V301.02H584.73V309.28H609.08V314.24H633.43V317.38H657.78V318.92H682.13V319.46H706.48V319.65H730.83V319.69H755.18" stroke="#23A983"/><path d="M170.82 313.00V296.79H195.17V267.54H219.52V229.20H243.87V188.76H268.22V151.62H292.57V125.23H316.92V113.05H341.27V113.76H365.62V126.31H389.97V148.21H414.32V174.35H438.67V202.20H463.02V228.83H487.37V253.73H511.72V273.71H536.07V289.29H560.42V300.90H584.77V309.18H609.12V314.18H633.47V317.34H657.82V318.90H682.17V319.45H706.52V319.65H730.87V319.69H755.22" stroke="#25AB82"/><path d="M170.86 312.85V296.42H195.21V267.01H219.56V228.64H243.91V188.36H268.26V151.49H292.61V125.50H316.96V113.58H341.31V114.40H365.66V126.92H390.01V148.73H414.36V174.70H438.71V202.40H463.06V228.85H487.41V253.62H511.76V273.56H536.11V289.14H560.46V300.77H584.81V309.08H609.16V314.12H633.51V317.30H657.86V318.88H682.21V319.45H706.56V319.64H730.91V319.69H755.26" stroke="#26AD81"/><path d="M170.90 312.70V296.05H195.25V266.46H219.60V228.09H243.95V187.96H268.30V151.36H292.65V125.78H317.00V114.12H341.35V115.03H365.70V127.52H390.05V149.25H414.40V175.04H438.75V202.59H463.10V228.86H487.45V253.52H511.80V273.40H536.15V288.99H560.50V300.64H584.85V308.98H609.20V314.05H633.55V317.26H657.90V318.86H682.25V319.44H706.60V319.64H730.95V319.69H755.30" stroke="#27AD81"/><path d="M170.93 312.54V295.67H195.28V265.92H219.63V227.54H243.98V187.57H268.33V151.24H292.68V126.06H317.03V114.65H341.38V115.67H365.73V128.13H390.08V149.77H414.43V175.38H438.78V202.79H463.13V228.88H487.48V253.41H511.83V273.25H536.18V288.83H560.53V300.51H584.88V308.88H609.23V313.99H633.58V317.22H657.93V318.83H682.28V319.43H706.63V319.64H730.98V319.69H755.33" stroke="#29AF7F"/><path d="M170.97 312.38V295.28H195.32V265.37H219.67V226.98H244.02V187.18H268.37V151.12H292.72V126.34H317.07V115.19H341.42V116.30H365.77V128.74H390.12V150.29H414.47V175.73H438.82V202.99H463.17V228.90H487.52V253.30H511.87V273.10H536.22V288.68H560.57V300.37H584.92V308.77H609.27V313.92H633.62V317.18H657.97V318.81H682.32V319.42H706.67V319.64H731.02V319.69H755.37" stroke="#2AB07F"/><path d="M171.01 312.21V294.89H195.36V264.82H219.71V226.43H244.06V186.79H268.41V151.01H292.76V126.63H317.11V115.73H341.46V116.94H365.81V129.34H390.16V150.81H414.51V176.07H438.86V203.18H463.21V228.92H487.56V253.19H511.91V272.95H536.26V288.52H560.61V300.24H584.96V308.67H609.31V313.85H633.66V317.14H658.01V318.79H682.36V319.41H706.71V319.63H731.06V319.69H755.41" stroke="#2DB27D"/><path d="M171.05 312.04V294.50H195.40V264.26H219.75V225.88H244.10V186.41H268.45V150.90H292.80V126.92H317.15V116.27H341.50V117.58H365.85V129.95H390.20V151.34H414.55V176.42H438.90V203.38H463.25V228.94H487.60V253.09H511.95V272.80H536.30V288.37H560.65V300.10H585.00V308.56H609.35V313.79H633.70V317.09H658.05V318.77H682.40V319.40H706.75V319.63H731.10V319.69H755.45" stroke="#2EB37C"/><path d="M171.08 311.87V294.10H195.43V263.70H219.78V225.32H244.13V186.03H268.48V150.79H292.83V127.21H317.18V116.82H341.53V118.22H365.88V130.56H390.23V151.86H414.58V176.77H438.93V203.58H463.28V228.96H487.63V252.98H511.98V272.65H536.33V288.21H560.68V299.97H585.03V308.45H609.38V313.72H633.73V317.05H658.08V318.74H682.43V319.39H706.78V319.63H731.13V319.69H755.48" stroke="#31B57B"/><path d="M171.12 311.70V293.69H195.47V263.14H219.82V224.77H244.17V185.65H268.52V150.69H292.87V127.51H317.22V117.37H341.57V118.86H365.92V131.16H390.27V152.38H414.62V177.11H438.97V203.79H463.32V228.98H487.67V252.88H512.02V272.49H536.37V288.06H560.72V299.83H585.07V308.34H609.42V313.64H633.77V317.00H658.12V318.72H682.47V319.38H706.82V319.63H731.17V319.69H755.52" stroke="#34B679"/><path d="M171.16 311.52V293.28H195.51V262.57H219.86V224.22H244.21V185.28H268.56V150.60H292.91V127.81H317.26V117.91H341.61V119.50H365.96V131.77H390.31V152.90H414.66V177.46H439.01V203.99H463.36V229.00H487.71V252.77H512.06V272.34H536.41V287.90H560.76V299.70H585.11V308.23H609.46V313.57H633.81V316.96H658.16V318.69H682.51V319.37H706.86V319.62H731.21V319.69H755.56" stroke="#35B779"/><path d="M171.20 311.33V292.86H195.55V262.00H219.90V223.66H244.25V184.90H268.60V150.50H292.95V128.12H317.30V118.47H341.65V120.14H366.00V132.38H390.35V153.42H414.70V177.81H439.05V204.19H463.40V229.03H487.75V252.67H512.10V272.19H536.45V287.74H560.80V299.56H585.15V308.12H609.50V313.50H633.85V316.91H658.20V318.67H682.55V319.36H706.90V319.62H731.25V319.69H755.60" stroke="#38B977"/><path d="M171.23 311.15V292.44H195.58V261.43H219.93V223.11H244.28V184.54H268.63V150.42H292.98V128.43H317.33V119.02H341.68V120.79H366.03V132.98H390.38V153.94H414.73V178.15H439.08V204.40H463.43V229.05H487.78V252.57H512.13V272.04H536.48V287.59H560.83V299.42H585.18V308.01H609.53V313.42H633.88V316.86H658.23V318.64H682.58V319.35H706.93V319.62H731.28V319.69H755.63" stroke="#3ABA76"/><path d="M171.27 310.96V292.01H195.62V260.86H219.97V222.56H244.32V184.17H268.67V150.33H293.02V128.75H317.37V119.58H341.72V121.43H366.07V133.59H390.42V154.46H414.77V178.50H439.12V204.60H463.47V229.08H487.82V252.47H512.17V271.89H536.52V287.43H560.87V299.28H585.22V307.90H609.57V313.35H633.92V316.81H658.27V318.61H682.62V319.34H706.97V319.61H731.32V319.69H755.67" stroke="#3DBC74"/><path d="M171.31 310.76V291.58H195.66V260.28H220.01V222.01H244.36V183.81H268.71V150.26H293.06V129.06H317.41V120.13H341.76V122.07H366.11V134.20H390.46V154.98H414.81V178.85H439.16V204.81H463.51V229.11H487.86V252.36H512.21V271.74H536.56V287.27H560.91V299.13H585.26V307.78H609.61V313.27H633.96V316.76H658.31V318.59H682.66V319.33H707.01V319.61H731.36V319.69H755.71" stroke="#40BD72"/><path d="M171.35 310.56V291.14H195.70V259.70H220.05V221.46H244.40V183.46H268.75V150.18H293.10V129.38H317.45V120.69H341.80V122.72H366.15V134.80H390.50V155.50H414.85V179.20H439.20V205.01H463.55V229.14H487.90V252.26H512.25V271.59H536.60V287.11H560.95V298.99H585.30V307.66H609.65V313.19H634.00V316.71H658.35V318.56H682.70V319.32H707.05V319.61H731.40V319.69H755.75" stroke="#42BE71"/><path d="M171.38 310.36V290.70H195.73V259.11H220.08V220.92H244.43V183.10H268.78V150.11H293.13V129.71H317.48V121.26H341.83V123.36H366.18V135.41H390.53V156.02H414.88V179.55H439.23V205.22H463.58V229.16H487.93V252.17H512.28V271.44H536.63V286.95H560.98V298.85H585.33V307.54H609.68V313.11H634.03V316.66H658.38V318.53H682.73V319.31H707.08V319.60H731.43V319.69H755.78" stroke="#46C06F"/><path d="M171.42 310.15V290.25H195.77V258.52H220.12V220.37H244.47V182.76H268.82V150.05H293.17V130.04H317.52V121.82H341.87V124.01H366.22V136.02H390.57V156.54H414.92V179.90H439.27V205.43H463.62V229.19H487.97V252.07H512.32V271.29H536.67V286.79H561.02V298.70H585.37V307.43H609.72V313.03H634.07V316.61H658.42V318.50H682.77V319.30H707.12V319.60H731.47V319.69H755.82" stroke="#48C16E"/><path d="M171.46 309.94V289.79H195.81V257.93H220.16V219.82H244.51V182.41H268.86V149.99H293.21V130.37H317.56V122.39H341.91V124.66H366.26V136.63H390.61V157.07H414.96V180.25H439.31V205.64H463.66V229.23H488.01V251.97H512.36V271.14H536.71V286.63H561.06V298.56H585.41V307.30H609.76V312.94H634.11V316.55H658.46V318.47H682.81V319.28H707.16V319.60H731.51V319.69H755.86" stroke="#4CC26C"/><path d="M171.50 309.72V289.33H195.85V257.34H220.20V219.28H244.55V182.07H268.90V149.93H293.25V130.70H317.60V122.96H341.95V125.30H366.30V137.23H390.65V157.59H415.00V180.60H439.35V205.85H463.70V229.26H488.05V251.87H512.40V270.99H536.75V286.47H561.10V298.41H585.45V307.18H609.80V312.86H634.15V316.50H658.50V318.44H682.85V319.27H707.20V319.59H731.55V319.69H755.90" stroke="#4EC36B"/><path d="M171.54 309.50V288.86H195.89V256.74H220.24V218.73H244.59V181.73H268.94V149.88H293.29V131.04H317.64V123.53H341.99V125.95H366.34V137.84H390.69V158.11H415.04V180.95H439.39V206.06H463.74V229.29H488.09V251.78H512.44V270.84H536.79V286.31H561.14V298.26H585.49V307.06H609.84V312.77H634.19V316.44H658.54V318.41H682.89V319.26H707.24V319.59H731.59V319.68H755.94" stroke="#52C569"/><path d="M171.57 309.28V288.39H195.92V256.14H220.27V218.19H244.62V181.40H268.97V149.84H293.32V131.39H317.67V124.10H342.02V126.60H366.37V138.45H390.72V158.63H415.07V181.31H439.42V206.27H463.77V229.33H488.12V251.68H512.47V270.69H536.82V286.15H561.17V298.11H585.52V306.93H609.87V312.69H634.22V316.38H658.57V318.37H682.92V319.24H707.27V319.58H731.62V319.68H755.97" stroke="#56C667"/><path d="M171.61 309.05V287.91H195.96V255.54H220.31V217.65H244.66V181.07H269.01V149.79H293.36V131.73H317.71V124.67H342.06V127.25H366.41V139.05H390.76V159.15H415.11V181.66H439.46V206.49H463.81V229.36H488.16V251.59H512.51V270.55H536.86V285.98H561.21V297.96H585.56V306.81H609.91V312.60H634.26V316.32H658.61V318.34H682.96V319.23H707.31V319.58H731.66V319.68H756.01" stroke="#58C765"/><path d="M171.65 308.81V287.43H196.00V254.93H220.35V217.11H244.70V180.74H269.05V149.76H293.40V132.08H317.75V125.25H342.10V127.90H366.45V139.66H390.80V159.67H415.15V182.01H439.50V206.70H463.85V229.40H488.20V251.50H512.55V270.40H536.90V285.82H561.25V297.81H585.60V306.68H609.95V312.51H634.30V316.26H658.65V318.31H683.00V319.22H707.35V319.58H731.70V319.68H756.05" stroke="#5CC863"/><path d="M171.69 308.57V286.94H196.04V254.33H220.39V216.57H244.74V180.42H269.09V149.72H293.44V132.44H317.79V125.83H342.14V128.55H366.49V140.27H390.84V160.19H415.19V182.36H439.54V206.92H463.89V229.44H488.24V251.40H512.59V270.25H536.94V285.66H561.29V297.66H585.64V306.55H609.99V312.42H634.34V316.20H658.69V318.27H683.04V319.20H707.39V319.57H731.74V319.68H756.09" stroke="#5EC962"/><path d="M171.72 308.33V286.44H196.07V253.72H220.42V216.03H244.77V180.10H269.12V149.70H293.47V132.79H317.82V126.41H342.17V129.20H366.52V140.87H390.87V160.71H415.22V182.72H439.57V207.13H463.92V229.48H488.27V251.31H512.62V270.10H536.97V285.50H561.32V297.51H585.67V306.42H610.02V312.33H634.37V316.14H658.72V318.23H683.07V319.19H707.42V319.57H731.77V319.68H756.12" stroke="#63CB5F"/><path d="M171.76 308.08V285.94H196.11V253.10H220.46V215.49H244.81V179.79H269.16V149.67H293.51V133.15H317.86V126.99H342.21V129.85H366.56V141.48H390.91V161.23H415.26V183.07H439.61V207.35H463.96V229.52H488.31V251.22H512.66V269.96H537.01V285.33H561.36V297.36H585.71V306.29H610.06V312.23H634.41V316.08H658.76V318.20H683.11V319.17H707.46V319.56H731.81V319.68H756.16" stroke="#67CC5C"/><path d="M171.80 307.82V285.43H196.15V252.49H220.50V214.96H244.85V179.48H269.20V149.65H293.55V133.52H317.90V127.57H342.25V130.50H366.60V142.08H390.95V161.75H415.30V183.43H439.65V207.57H464.00V229.56H488.35V251.13H512.70V269.81H537.05V285.17H561.40V297.20H585.75V306.16H610.10V312.14H634.45V316.01H658.80V318.16H683.15V319.15H707.50V319.56H731.85V319.68H756.20" stroke="#69CD5B"/><path d="M171.84 307.56V284.92H196.19V251.87H220.54V214.42H244.89V179.18H269.24V149.64H293.59V133.89H317.94V128.16H342.29V131.15H366.64V142.69H390.99V162.27H415.34V183.78H439.69V207.79H464.04V229.61H488.39V251.05H512.74V269.67H537.09V285.01H561.44V297.05H585.79V306.03H610.14V312.04H634.49V315.95H658.84V318.12H683.19V319.14H707.54V319.55H731.89V319.68H756.24" stroke="#6ECE58"/><path d="M171.87 307.30V284.40H196.22V251.25H220.57V213.89H244.92V178.88H269.27V149.63H293.62V134.26H317.97V128.75H342.32V131.81H366.67V143.30H391.02V162.79H415.37V184.14H439.72V208.01H464.07V229.65H488.42V250.96H512.77V269.52H537.12V284.84H561.47V296.89H585.82V305.89H610.17V311.94H634.52V315.88H658.87V318.08H683.22V319.12H707.57V319.55H731.92V319.68H756.27" stroke="#70CF57"/><path d="M171.91 307.02V283.88H196.26V250.63H220.61V213.36H244.96V178.58H269.31V149.63H293.66V134.63H318.01V129.33H342.36V132.46H366.71V143.90H391.06V163.31H415.41V184.49H439.76V208.23H464.11V229.70H488.46V250.88H512.81V269.38H537.16V284.68H561.51V296.73H585.86V305.76H610.21V311.84H634.56V315.81H658.91V318.04H683.26V319.10H707.61V319.54H731.96V319.68H756.31" stroke="#75D054"/><path d="M171.95 306.75V283.34H196.30V250.00H220.65V212.83H245.00V178.29H269.35V149.63H293.70V135.01H318.05V129.92H342.40V133.11H366.75V144.51H391.10V163.83H415.45V184.85H439.80V208.45H464.15V229.74H488.50V250.79H512.85V269.23H537.20V284.52H561.55V296.58H585.90V305.62H610.25V311.74H634.60V315.74H658.95V318.00H683.30V319.08H707.65V319.53H732.00V319.67H756.35" stroke="#77D153"/><path d="M171.99 306.46V282.81H196.34V249.38H220.69V212.31H245.04V178.00H269.39V149.63H293.74V135.39H318.09V130.52H342.44V133.77H366.79V145.11H391.14V164.35H415.49V185.21H439.84V208.67H464.19V229.79H488.54V250.71H512.89V269.09H537.24V284.35H561.59V296.42H585.94V305.48H610.29V311.64H634.64V315.67H658.99V317.96H683.34V319.06H707.69V319.53H732.04V319.67H756.39" stroke="#7CD250"/><path d="M172.02 306.18V282.26H196.37V248.75H220.72V211.79H245.07V177.72H269.42V149.64H293.77V135.77H318.12V131.11H342.47V134.42H366.82V145.72H391.17V164.87H415.52V185.56H439.87V208.90H464.22V229.84H488.57V250.63H512.92V268.95H537.27V284.19H561.62V296.26H585.97V305.34H610.32V311.54H634.67V315.60H659.02V317.92H683.37V319.05H707.72V319.52H732.07V319.67H756.42" stroke="#81D34D"/><path d="M172.06 305.88V281.72H196.41V248.11H220.76V211.26H245.11V177.44H269.46V149.65H293.81V136.16H318.16V131.71H342.51V135.07H366.86V146.32H391.21V165.39H415.56V185.92H439.91V209.12H464.26V229.89H488.61V250.55H512.96V268.81H537.31V284.03H561.66V296.10H586.01V305.20H610.36V311.43H634.71V315.53H659.06V317.87H683.41V319.03H707.76V319.51H732.11V319.67H756.46" stroke="#84D44B"/><path d="M172.10 305.58V281.16H196.45V247.48H220.80V210.74H245.15V177.16H269.50V149.67H293.85V136.55H318.20V132.30H342.55V135.73H366.90V146.92H391.25V165.91H415.60V186.28H439.95V209.35H464.30V229.95H488.65V250.47H513.00V268.67H537.35V283.86H561.70V295.94H586.05V305.05H610.40V311.33H634.75V315.45H659.10V317.83H683.45V319.01H707.80V319.51H732.15V319.67H756.50" stroke="#89D548"/><path d="M172.14 305.28V280.60H196.49V246.85H220.84V210.23H245.19V176.89H269.54V149.69H293.89V136.95H318.24V132.90H342.59V136.38H366.94V147.53H391.29V166.43H415.64V186.64H439.99V209.58H464.34V230.00H488.69V250.39H513.04V268.53H537.39V283.70H561.74V295.78H586.09V304.91H610.44V311.22H634.79V315.38H659.14V317.78H683.49V318.98H707.84V319.50H732.19V319.67H756.54" stroke="#8BD646"/><path d="M172.17 304.97V280.03H196.52V246.21H220.87V209.71H245.22V176.63H269.57V149.72H293.92V137.34H318.27V133.50H342.62V137.04H366.97V148.13H391.32V166.95H415.67V187.00H440.02V209.80H464.37V230.05H488.72V250.31H513.07V268.39H537.42V283.53H561.77V295.62H586.12V304.77H610.47V311.11H634.82V315.30H659.17V317.74H683.52V318.96H707.87V319.49H732.22V319.67H756.57" stroke="#90D743"/><path d="M172.21 304.65V279.46H196.56V245.57H220.91V209.20H245.26V176.37H269.61V149.75H293.96V137.75H318.31V134.10H342.66V137.69H367.01V148.73H391.36V167.47H415.71V187.36H440.06V210.03H464.41V230.11H488.76V250.23H513.11V268.25H537.46V283.37H561.81V295.45H586.16V304.62H610.51V311.00H634.86V315.22H659.21V317.69H683.56V318.94H707.91V319.49H732.26V319.67H756.61" stroke="#93D741"/><path d="M172.25 304.32V278.88H196.60V244.93H220.95V208.69H245.30V176.11H269.65V149.79H294.00V138.15H318.35V134.71H342.70V138.35H367.05V149.34H391.40V167.99H415.75V187.72H440.10V210.26H464.45V230.17H488.80V250.16H513.15V268.11H537.50V283.21H561.85V295.29H586.20V304.47H610.55V310.89H634.90V315.14H659.25V317.64H683.60V318.92H707.95V319.48H732.30V319.66H756.65" stroke="#98D83E"/><path d="M172.29 303.99V278.30H196.64V244.28H220.99V208.18H245.34V175.86H269.69V149.83H294.04V138.56H318.39V135.31H342.74V139.00H367.09V149.94H391.44V168.51H415.79V188.08H440.14V210.49H464.49V230.23H488.84V250.09H513.19V267.97H537.54V283.04H561.89V295.13H586.24V304.32H610.59V310.77H634.94V315.06H659.29V317.59H683.64V318.89H707.99V319.47H732.34V319.66H756.69" stroke="#9DD93B"/><path d="M172.32 303.65V277.71H196.67V243.64H221.02V207.68H245.37V175.61H269.72V149.87H294.07V138.97H318.42V135.91H342.77V139.66H367.12V150.54H391.47V169.03H415.82V188.44H440.17V210.73H464.52V230.29H488.87V250.01H513.22V267.84H537.57V282.88H561.92V294.96H586.27V304.17H610.62V310.66H634.97V314.98H659.32V317.54H683.67V318.87H708.02V319.46H732.37V319.66H756.72" stroke="#A0DA39"/><path d="M172.36 303.31V277.11H196.71V242.99H221.06V207.17H245.41V175.37H269.76V149.92H294.11V139.38H318.46V136.52H342.81V140.31H367.16V151.14H391.51V169.54H415.86V188.80H440.21V210.96H464.56V230.35H488.91V249.94H513.26V267.70H537.61V282.71H561.96V294.80H586.31V304.02H610.66V310.54H635.01V314.89H659.36V317.49H683.71V318.85H708.06V319.45H732.41V319.66H756.76" stroke="#A5DB36"/><path d="M172.40 302.96V276.51H196.75V242.35H221.10V206.67H245.45V175.13H269.80V149.98H294.15V139.80H318.50V137.13H342.85V140.97H367.20V151.74H391.55V170.06H415.90V189.16H440.25V211.19H464.60V230.41H488.95V249.87H513.30V267.57H537.65V282.55H562.00V294.63H586.35V303.87H610.70V310.42H635.05V314.81H659.40V317.44H683.75V318.82H708.10V319.44H732.45V319.66H756.80" stroke="#A8DB34"/><path d="M172.44 302.60V275.90H196.79V241.70H221.14V206.18H245.49V174.90H269.84V150.04H294.19V140.21H318.54V137.74H342.89V141.62H367.24V152.34H391.59V170.58H415.94V189.52H440.29V211.43H464.64V230.48H488.99V249.81H513.34V267.43H537.69V282.39H562.04V294.46H586.39V303.72H610.74V310.30H635.09V314.72H659.44V317.38H683.79V318.79H708.14V319.43H732.49V319.65H756.84" stroke="#ADDC30"/><path d="M172.47 302.24V275.28H196.82V241.05H221.17V205.68H245.52V174.67H269.87V150.10H294.22V140.64H318.57V138.35H342.92V142.28H367.27V152.94H391.62V171.10H415.97V189.88H440.32V211.67H464.67V230.54H489.02V249.74H513.37V267.30H537.72V282.22H562.07V294.30H586.42V303.56H610.77V310.18H635.12V314.63H659.47V317.33H683.82V318.77H708.17V319.42H732.52V319.65H756.87" stroke="#B2DD2D"/><path d="M172.51 301.86V274.66H196.86V240.40H221.21V205.19H245.56V174.45H269.91V150.17H294.26V141.06H318.61V138.96H342.96V142.93H367.31V153.54H391.66V171.62H416.01V190.25H440.36V211.90H464.71V230.61H489.06V249.67H513.41V267.17H537.76V282.06H562.11V294.13H586.46V303.41H610.81V310.06H635.16V314.54H659.51V317.27H683.86V318.74H708.21V319.41H732.56V319.65H756.91" stroke="#B5DE2B"/><path d="M172.55 301.49V274.03H196.90V239.74H221.25V204.70H245.60V174.23H269.95V150.24H294.30V141.49H318.65V139.58H343.00V143.59H367.35V154.14H391.70V172.13H416.05V190.61H440.40V212.14H464.75V230.68H489.10V249.61H513.45V267.04H537.80V281.90H562.15V293.96H586.50V303.25H610.85V309.94H635.20V314.45H659.55V317.22H683.90V318.71H708.25V319.40H732.60V319.65H756.95" stroke="#BADE28"/><path d="M172.59 301.10V273.40H196.94V239.09H221.29V204.22H245.64V174.02H269.99V150.32H294.34V141.92H318.69V140.19H343.04V144.24H367.39V154.74H391.74V172.65H416.09V190.97H440.44V212.38H464.79V230.75H489.14V249.55H513.49V266.91H537.84V281.74H562.19V293.79H586.54V303.09H610.89V309.81H635.24V314.36H659.59V317.16H683.94V318.68H708.29V319.39H732.64V319.65H756.99" stroke="#BDDF26"/><path d="M172.63 300.71V272.76H196.98V238.44H221.33V203.74H245.68V173.81H270.03V150.40H294.38V142.36H318.73V140.81H343.08V144.90H367.43V155.34H391.78V173.17H416.13V191.34H440.48V212.62H464.83V230.82H489.18V249.49H513.53V266.78H537.88V281.57H562.23V293.62H586.58V302.93H610.93V309.69H635.28V314.27H659.63V317.10H683.98V318.65H708.33V319.38H732.68V319.64H757.03" stroke="#C2DF23"/><path d="M172.66 300.30V272.12H197.01V237.78H221.36V203.26H245.71V173.60H270.06V150.49H294.41V142.79H318.76V141.42H343.11V145.56H367.46V155.94H391.81V173.68H416.16V191.70H440.51V212.86H464.86V230.90H489.21V249.43H513.56V266.65H537.91V281.41H562.26V293.45H586.61V302.77H610.96V309.56H635.31V314.17H659.66V317.04H684.01V318.62H708.36V319.37H732.71V319.64H757.06" stroke="#C5E021"/><path d="M172.70 299.90V271.46H197.05V237.12H221.40V202.78H245.75V173.41H270.10V150.58H294.45V143.23H318.80V142.04H343.15V146.21H367.50V156.53H391.85V174.20H416.20V192.06H440.55V213.11H464.90V230.97H489.25V249.37H513.60V266.53H537.95V281.25H562.30V293.28H586.65V302.61H611.00V309.43H635.35V314.07H659.70V316.98H684.05V318.59H708.40V319.36H732.75V319.64H757.10" stroke="#CAE11F"/><path d="M173.19 294.06V260.94H197.54V226.60H221.89V196.43H246.24V175.59H270.59V152.56H294.94V149.78H319.29V149.39H343.64V154.94H367.99V164.87H392.34V177.38H416.69V193.65H441.04V211.90H465.39V229.83H489.74V247.16H514.09V263.13H538.44V276.43H562.79V288.14H587.14V297.47H611.49V305.81H635.84V311.96H660.19V315.53H684.54V317.94H708.89V319.10H733.24V319.58H757.59" stroke="#FDE725"/></g>
</g>
<rect x="138.70" y="7.50" width="647.90" height="326.70" fill="none" stroke="#1E1E1E" stroke-width="2"/>
<line x1="129.80" x2="138.70" y1="319.70" y2="319.70" stroke="#1E1E1E" stroke-width="3.0"/>
<text x="123.10" y="328.60" font-size="24.4" text-anchor="end" fill="#4D4D4D">0.00</text>
<line x1="129.80" x2="138.70" y1="280.00" y2="280.00" stroke="#1E1E1E" stroke-width="3.0"/>
<text x="123.10" y="288.90" font-size="24.4" text-anchor="end" fill="#4D4D4D">0.02</text>
<line x1="129.80" x2="138.70" y1="240.30" y2="240.30" stroke="#1E1E1E" stroke-width="3.0"/>
<text x="123.10" y="249.20" font-size="24.4" text-anchor="end" fill="#4D4D4D">0.04</text>
<line x1="129.80" x2="138.70" y1="200.60" y2="200.60" stroke="#1E1E1E" stroke-width="3.0"/>
<text x="123.10" y="209.50" font-size="24.4" text-anchor="end" fill="#4D4D4D">0.06</text>
<line x1="129.80" x2="138.70" y1="160.90" y2="160.90" stroke="#1E1E1E" stroke-width="3.0"/>
<text x="123.10" y="169.80" font-size="24.4" text-anchor="end" fill="#4D4D4D">0.08</text>
<line x1="129.80" x2="138.70" y1="121.20" y2="121.20" stroke="#1E1E1E" stroke-width="3.0"/>
<text x="123.10" y="130.10" font-size="24.4" text-anchor="end" fill="#4D4D4D">0.10</text>
<line x1="167.10" x2="167.10" y1="334.20" y2="342.50" stroke="#1E1E1E" stroke-width="3.0"/>
<text x="167.10" y="367.10" font-size="24.4" text-anchor="middle" fill="#4D4D4D">4</text>
<line x1="313.20" x2="313.20" y1="334.20" y2="342.50" stroke="#1E1E1E" stroke-width="3.0"/>
<text x="313.20" y="367.10" font-size="24.4" text-anchor="middle" fill="#4D4D4D">10</text>
<line x1="459.30" x2="459.30" y1="334.20" y2="342.50" stroke="#1E1E1E" stroke-width="3.0"/>
<text x="459.30" y="367.10" font-size="24.4" text-anchor="middle" fill="#4D4D4D">16</text>
<line x1="605.40" x2="605.40" y1="334.20" y2="342.50" stroke="#1E1E1E" stroke-width="3.0"/>
<text x="605.40" y="367.10" font-size="24.4" text-anchor="middle" fill="#4D4D4D">22</text>
<line x1="751.50" x2="751.50" y1="334.20" y2="342.50" stroke="#1E1E1E" stroke-width="3.0"/>
<text x="751.50" y="367.10" font-size="24.4" text-anchor="middle" fill="#4D4D4D">28</text>
<g clip-path="url(#cp1)">
<line x1="880.00" x2="1527.90" y1="299.85" y2="299.85" stroke="#EBEBEB" stroke-width="1.3"/>
<line x1="880.00" x2="1527.90" y1="260.15" y2="260.15" stroke="#EBEBEB" stroke-width="1.3"/>
<line x1="880.00" x2="1527.90" y1="220.45" y2="220.45" stroke="#EBEBEB" stroke-width="1.3"/>
<line x1="880.00" x2="1527.90" y1="180.75" y2="180.75" stroke="#EBEBEB" stroke-width="1.3"/>
<line x1="880.00" x2="1527.90" y1="141.05" y2="141.05" stroke="#EBEBEB" stroke-width="1.3"/>
<line x1="880.00" x2="1527.90" y1="101.35" y2="101.35" stroke="#EBEBEB" stroke-width="1.3"/>
<line x1="880.00" x2="1527.90" y1="81.50" y2="81.50" stroke="#EBEBEB" stroke-width="1.3"/>
<line x1="981.50" x2="981.50" y1="7.50" y2="334.20" stroke="#EBEBEB" stroke-width="1.3"/>
<line x1="1127.60" x2="1127.60" y1="7.50" y2="334.20" stroke="#EBEBEB" stroke-width="1.3"/>
<line x1="1273.70" x2="1273.70" y1="7.50" y2="334.20" stroke="#EBEBEB" stroke-width="1.3"/>
<line x1="1419.80" x2="1419.80" y1="7.50" y2="334.20" stroke="#EBEBEB" stroke-width="1.3"/>
<line x1="880.00" x2="1527.90" y1="319.70" y2="319.70" stroke="#EBEBEB" stroke-width="2.5"/>
<line x1="880.00" x2="1527.90" y1="280.00" y2="280.00" stroke="#EBEBEB" stroke-width="2.5"/>
<line x1="880.00" x2="1527.90" y1="240.30" y2="240.30" stroke="#EBEBEB" stroke-width="2.5"/>
<line x1="880.00" x2="1527.90" y1="200.60" y2="200.60" stroke="#EBEBEB" stroke-width="2.5"/>
<line x1="880.00" x2="1527.90" y1="160.90" y2="160.90" stroke="#EBEBEB" stroke-width="2.5"/>
<line x1="880.00" x2="1527.90" y1="121.20" y2="121.20" stroke="#EBEBEB" stroke-width="2.5"/>
<line x1="908.45" x2="908.45" y1="7.50" y2="334.20" stroke="#EBEBEB" stroke-width="2.5"/>
<line x1="1054.55" x2="1054.55" y1="7.50" y2="334.20" stroke="#EBEBEB" stroke-width="2.5"/>
<line x1="1200.65" x2="1200.65" y1="7.50" y2="334.20" stroke="#EBEBEB" stroke-width="2.5"/>
<line x1="1346.75" x2="1346.75" y1="7.50" y2="334.20" stroke="#EBEBEB" stroke-width="2.5"/>
<line x1="1492.85" x2="1492.85" y1="7.50" y2="334.20" stroke="#EBEBEB" stroke-width="2.5"/>
<text x="1504.50" y="43.80" font-size="18.1" text-anchor="end" fill="#000">age</text>
<rect x="1243.80" y="54.20" width="261.50" height="22.00" fill="url(#vir)"/>
<line x1="1260.97" x2="1260.97" y1="54.20" y2="58.60" stroke="#fff" stroke-width="1.1"/>
<line x1="1260.97" x2="1260.97" y1="71.80" y2="76.20" stroke="#fff" stroke-width="1.1"/>
<text x="1260.97" y="97.90" font-size="18.1" text-anchor="middle" fill="#000">20</text>
<line x1="1316.38" x2="1316.38" y1="54.20" y2="58.60" stroke="#fff" stroke-width="1.1"/>
<line x1="1316.38" x2="1316.38" y1="71.80" y2="76.20" stroke="#fff" stroke-width="1.1"/>
<text x="1316.38" y="97.90" font-size="18.1" text-anchor="middle" fill="#000">30</text>
<line x1="1371.78" x2="1371.78" y1="54.20" y2="58.60" stroke="#fff" stroke-width="1.1"/>
<line x1="1371.78" x2="1371.78" y1="71.80" y2="76.20" stroke="#fff" stroke-width="1.1"/>
<text x="1371.78" y="97.90" font-size="18.1" text-anchor="middle" fill="#000">40</text>
<line x1="1427.18" x2="1427.18" y1="54.20" y2="58.60" stroke="#fff" stroke-width="1.1"/>
<line x1="1427.18" x2="1427.18" y1="71.80" y2="76.20" stroke="#fff" stroke-width="1.1"/>
<text x="1427.18" y="97.90" font-size="18.1" text-anchor="middle" fill="#000">50</text>
<line x1="1482.58" x2="1482.58" y1="54.20" y2="58.60" stroke="#fff" stroke-width="1.1"/>
<line x1="1482.58" x2="1482.58" y1="71.80" y2="76.20" stroke="#fff" stroke-width="1.1"/>
<text x="1482.58" y="97.90" font-size="18.1" text-anchor="middle" fill="#000">60</text>
<g fill="none" stroke-width="3.00" stroke-linejoin="round" stroke-opacity="0.55"><path d="M908.45 307.99V283.97H932.80V247.84H957.15V205.17H981.50V164.47H1005.85V132.32H1030.20V113.26H1054.55V108.89H1078.90V117.44H1103.25V138.47H1127.60V163.08H1151.95V191.67H1176.30V219.26H1200.65V244.27H1225.00V266.64H1249.35V284.40H1273.70V297.63H1298.05V306.84H1322.40V312.79H1346.75V316.33H1371.10V318.24H1395.45V319.16H1419.80V319.54H1444.15V319.66H1468.50V319.70H1492.85" stroke="#440154"/><path d="M908.58 308.23V284.58H932.93V248.84H957.28V206.43H981.63V165.74H1005.98V133.37H1030.33V113.96H1054.68V109.11H1079.03V117.21H1103.38V137.86H1127.73V162.26H1152.08V190.74H1176.43V218.38H1200.78V243.45H1225.13V265.96H1249.48V283.88H1273.83V297.26H1298.18V306.60H1322.53V312.65H1346.88V316.25H1371.23V318.20H1395.58V319.14H1419.93V319.53H1444.28V319.66H1468.63V319.70H1492.98" stroke="#46085C"/><path d="M908.71 308.48V285.19H933.06V249.83H957.41V207.69H981.76V167.01H1006.11V134.44H1030.46V114.67H1054.81V109.33H1079.16V117.00H1103.51V137.27H1127.86V161.43H1152.21V189.82H1176.56V217.49H1200.91V242.62H1225.26V265.27H1249.61V283.35H1273.96V296.89H1298.31V306.35H1322.66V312.50H1347.01V316.17H1371.36V318.17H1395.71V319.13H1420.06V319.53H1444.41V319.66H1468.76V319.70H1493.11" stroke="#471063"/><path d="M908.84 308.71V285.78H933.19V250.81H957.54V208.94H981.89V168.28H1006.24V135.51H1030.59V115.39H1054.94V109.57H1079.29V116.80H1103.64V136.68H1127.99V160.62H1152.34V188.90H1176.69V216.60H1201.04V241.79H1225.39V264.57H1249.74V282.81H1274.09V296.51H1298.44V306.10H1322.79V312.35H1347.14V316.09H1371.49V318.13H1395.84V319.11H1420.19V319.52H1444.54V319.66H1468.89V319.70H1493.24" stroke="#48186A"/><path d="M908.97 308.95V286.37H933.32V251.77H957.67V210.18H982.02V169.54H1006.37V136.59H1030.72V116.12H1055.07V109.82H1079.42V116.62H1103.77V136.10H1128.12V159.81H1152.47V187.98H1176.82V215.71H1201.17V240.95H1225.52V263.87H1249.87V282.27H1274.22V296.12H1298.57V305.85H1322.92V312.20H1347.27V316.01H1371.62V318.09H1395.97V319.10H1420.32V319.52H1444.67V319.66H1469.02V319.70H1493.37" stroke="#481F70"/><path d="M909.10 309.18V286.95H933.45V252.73H957.80V211.42H982.15V170.81H1006.50V137.67H1030.85V116.86H1055.20V110.09H1079.55V116.45H1103.90V135.54H1128.25V159.00H1152.60V187.07H1176.95V214.82H1201.30V240.11H1225.65V263.17H1250.00V281.72H1274.35V295.73H1298.70V305.59H1323.05V312.04H1347.40V315.93H1371.75V318.05H1396.10V319.08H1420.45V319.51H1444.80V319.66H1469.15V319.69H1493.50" stroke="#482677"/><path d="M909.23 309.40V287.52H933.58V253.68H957.93V212.66H982.28V172.08H1006.63V138.76H1030.98V117.62H1055.33V110.37H1079.68V116.29H1104.03V134.98H1128.38V158.20H1152.73V186.15H1177.08V213.92H1201.43V239.26H1225.78V262.45H1250.13V281.17H1274.48V295.33H1298.83V305.33H1323.18V311.88H1347.53V315.84H1371.88V318.01H1396.23V319.06H1420.58V319.51H1444.93V319.66H1469.28V319.69H1493.63" stroke="#472D7B"/><path d="M909.36 309.63V288.08H933.71V254.63H958.06V213.88H982.41V173.34H1006.76V139.86H1031.11V118.38H1055.46V110.67H1079.81V116.14H1104.16V134.44H1128.51V157.41H1152.86V185.24H1177.21V213.03H1201.56V238.41H1225.91V261.73H1250.26V280.61H1274.61V294.93H1298.96V305.06H1323.31V311.72H1347.66V315.75H1372.01V317.96H1396.36V319.05H1420.71V319.50H1445.06V319.66H1469.41V319.69H1493.76" stroke="#463480"/><path d="M909.49 309.84V288.64H933.84V255.56H958.19V215.10H982.54V174.61H1006.89V140.96H1031.24V119.16H1055.59V110.97H1079.94V116.01H1104.29V133.90H1128.64V156.63H1152.99V184.33H1177.34V212.13H1201.69V237.56H1226.04V261.01H1250.39V280.05H1274.74V294.52H1299.09V304.79H1323.44V311.56H1347.79V315.66H1372.14V317.92H1396.49V319.03H1420.84V319.49H1445.19V319.65H1469.54V319.69H1493.89" stroke="#443A83"/><path d="M909.62 310.06V289.19H933.97V256.48H958.32V216.32H982.67V175.87H1007.02V142.07H1031.37V119.94H1055.72V111.29H1080.07V115.89H1104.42V133.38H1128.77V155.85H1153.12V183.42H1177.47V211.23H1201.82V236.70H1226.17V260.28H1250.52V279.47H1274.87V294.11H1299.22V304.52H1323.57V311.39H1347.92V315.57H1372.27V317.88H1396.62V319.01H1420.97V319.49H1445.32V319.65H1469.67V319.69H1494.02" stroke="#424186"/><path d="M909.75 310.27V289.73H934.10V257.40H958.45V217.52H982.80V177.14H1007.15V143.18H1031.50V120.74H1055.85V111.63H1080.20V115.79H1104.55V132.86H1128.90V155.08H1153.25V182.51H1177.60V210.33H1201.95V235.83H1226.30V259.54H1250.65V278.90H1275.00V293.69H1299.35V304.24H1323.70V311.22H1348.05V315.48H1372.40V317.83H1396.75V318.99H1421.10V319.48H1445.45V319.65H1469.80V319.69H1494.15" stroke="#3F4788"/><path d="M909.87 310.48V290.26H934.22V258.30H958.57V218.73H982.92V178.40H1007.27V144.30H1031.62V121.55H1055.97V111.98H1080.32V115.69H1104.67V132.36H1129.02V154.31H1153.37V181.61H1177.72V209.42H1202.07V234.96H1226.42V258.80H1250.77V278.31H1275.12V293.27H1299.47V303.95H1323.82V311.05H1348.17V315.38H1372.52V317.79H1396.87V318.97H1421.22V319.48H1445.57V319.65H1469.92V319.69H1494.27" stroke="#3D4D8A"/><path d="M910.00 310.68V290.78H934.35V259.20H958.70V219.92H983.05V179.66H1007.40V145.42H1031.75V122.37H1056.10V112.34H1080.45V115.62H1104.80V131.87H1129.15V153.56H1153.50V180.71H1177.85V208.52H1202.20V234.09H1226.55V258.05H1250.90V277.72H1275.25V292.84H1299.60V303.67H1323.95V310.87H1348.30V315.28H1372.65V317.74H1397.00V318.95H1421.35V319.47H1445.70V319.65H1470.05V319.69H1494.40" stroke="#3A538B"/><path d="M910.13 310.88V291.30H934.48V260.08H958.83V221.11H983.18V180.92H1007.53V146.55H1031.88V123.20H1056.23V112.71H1080.58V115.55H1104.93V131.39H1129.28V152.81H1153.63V179.81H1177.98V207.62H1202.33V233.21H1226.68V257.30H1251.03V277.13H1275.38V292.40H1299.73V303.37H1324.08V310.69H1348.43V315.19H1372.78V317.69H1397.13V318.93H1421.48V319.46H1445.83V319.65H1470.18V319.69H1494.53" stroke="#38598C"/><path d="M910.26 311.08V291.81H934.61V260.96H958.96V222.29H983.31V182.18H1007.66V147.68H1032.01V124.03H1056.36V113.10H1080.71V115.50H1105.06V130.92H1129.41V152.06H1153.76V178.92H1178.11V206.71H1202.46V232.33H1226.81V256.54H1251.16V276.52H1275.51V291.96H1299.86V303.08H1324.21V310.51H1348.56V315.08H1372.91V317.64H1397.26V318.91H1421.61V319.46H1445.96V319.64H1470.31V319.69H1494.66" stroke="#355F8D"/><path d="M910.39 311.27V292.31H934.74V261.83H959.09V223.46H983.44V183.44H1007.79V148.82H1032.14V124.88H1056.49V113.50H1080.84V115.46H1105.19V130.46H1129.54V151.33H1153.89V178.03H1178.24V205.80H1202.59V231.45H1226.94V255.77H1251.29V275.92H1275.64V291.51H1299.99V302.77H1324.34V310.32H1348.69V314.98H1373.04V317.59H1397.39V318.89H1421.74V319.45H1446.09V319.64H1470.44V319.69H1494.79" stroke="#32648E"/><path d="M910.52 311.46V292.80H934.87V262.69H959.22V224.63H983.57V184.69H1007.92V149.96H1032.27V125.74H1056.62V113.91H1080.97V115.43H1105.32V130.02H1129.67V150.60H1154.02V177.14H1178.37V204.89H1202.72V230.56H1227.07V255.00H1251.42V275.30H1275.77V291.06H1300.12V302.47H1324.47V310.13H1348.82V314.87H1373.17V317.54H1397.52V318.87H1421.87V319.44H1446.22V319.64H1470.57V319.69H1494.92" stroke="#306A8E"/><path d="M910.65 311.65V293.29H935.00V263.54H959.35V225.79H983.70V185.94H1008.05V151.11H1032.40V126.61H1056.75V114.34H1081.10V115.42H1105.45V129.58H1129.80V149.88H1154.15V176.25H1178.50V203.99H1202.85V229.67H1227.20V254.23H1251.55V274.68H1275.90V290.60H1300.25V302.16H1324.60V309.94H1348.95V314.77H1373.30V317.48H1397.65V318.85H1422.00V319.43H1446.35V319.64H1470.70V319.69H1495.05" stroke="#2E6F8E"/><path d="M910.78 311.83V293.77H935.13V264.38H959.48V226.94H983.83V187.19H1008.18V152.26H1032.53V127.48H1056.88V114.77H1081.23V115.42H1105.58V129.16H1129.93V149.17H1154.28V175.37H1178.63V203.08H1202.98V228.77H1227.33V253.44H1251.68V274.05H1276.03V290.14H1300.38V301.84H1324.73V309.74H1349.08V314.66H1373.43V317.43H1397.78V318.82H1422.13V319.42H1446.48V319.64H1470.83V319.69H1495.18" stroke="#2B748E"/><path d="M910.91 312.01V294.24H935.26V265.21H959.61V228.08H983.96V188.44H1008.31V153.41H1032.66V128.37H1057.01V115.23H1081.36V115.44H1105.71V128.75H1130.06V148.47H1154.41V174.50H1178.76V202.17H1203.11V227.87H1227.46V252.66H1251.81V273.42H1276.16V289.67H1300.51V301.52H1324.86V309.54H1349.21V314.54H1373.56V317.37H1397.91V318.80H1422.26V319.42H1446.61V319.64H1470.96V319.69H1495.31" stroke="#29798E"/><path d="M911.04 312.19V294.71H935.39V266.04H959.74V229.22H984.09V189.69H1008.44V154.57H1032.79V129.27H1057.14V115.69H1081.49V115.47H1105.84V128.35H1130.19V147.77H1154.54V173.62H1178.89V201.26H1203.24V226.97H1227.59V251.86H1251.94V272.78H1276.29V289.19H1300.64V301.19H1324.99V309.34H1349.34V314.43H1373.69V317.32H1398.04V318.77H1422.39V319.41H1446.74V319.63H1471.09V319.69H1495.44" stroke="#277E8E"/><path d="M911.17 312.36V295.17H935.52V266.85H959.87V230.35H984.22V190.93H1008.57V155.73H1032.92V130.17H1057.27V116.17H1081.62V115.51H1105.97V127.96H1130.32V147.09H1154.67V172.75H1179.02V200.35H1203.37V226.06H1227.72V251.06H1252.07V272.13H1276.42V288.71H1300.77V300.86H1325.12V309.13H1349.47V314.31H1373.82V317.26H1398.17V318.75H1422.52V319.40H1446.87V319.63H1471.22V319.69H1495.57" stroke="#25838E"/><path d="M911.30 312.54V295.62H935.65V267.66H960.00V231.47H984.35V192.17H1008.70V156.89H1033.05V131.08H1057.40V116.66H1081.75V115.57H1106.10V127.59H1130.45V146.41H1154.80V171.89H1179.15V199.44H1203.50V225.15H1227.85V250.26H1252.20V271.48H1276.55V288.22H1300.90V300.53H1325.25V308.92H1349.60V314.19H1373.95V317.20H1398.30V318.72H1422.65V319.39H1447.00V319.63H1471.35V319.69H1495.70" stroke="#23888E"/><path d="M911.43 312.70V296.06H935.78V268.45H960.13V232.59H984.48V193.40H1008.83V158.05H1033.18V132.01H1057.53V117.16H1081.88V115.64H1106.23V127.23H1130.58V145.74H1154.93V171.03H1179.28V198.53H1203.63V224.24H1227.98V249.45H1252.33V270.82H1276.68V287.73H1301.03V300.19H1325.38V308.71H1349.73V314.07H1374.08V317.14H1398.43V318.70H1422.78V319.38H1447.13V319.63H1471.48V319.69H1495.83" stroke="#218E8D"/><path d="M911.56 312.87V296.50H935.91V269.24H960.26V233.70H984.61V194.64H1008.96V159.22H1033.31V132.94H1057.66V117.67H1082.01V115.72H1106.36V126.88H1130.71V145.08H1155.06V170.17H1179.41V197.62H1203.76V223.32H1228.11V248.64H1252.46V270.16H1276.81V287.23H1301.16V299.84H1325.51V308.49H1349.86V313.95H1374.21V317.08H1398.56V318.67H1422.91V319.37H1447.26V319.62H1471.61V319.69H1495.96" stroke="#20928C"/><path d="M911.69 313.03V296.93H936.04V270.02H960.39V234.80H984.74V195.87H1009.09V160.40H1033.44V133.87H1057.79V118.20H1082.14V115.82H1106.49V126.54H1130.84V144.43H1155.19V169.32H1179.54V196.72H1203.89V222.40H1228.24V247.81H1252.59V269.48H1276.94V286.72H1301.29V299.49H1325.64V308.27H1349.99V313.82H1374.34V317.01H1398.69V318.64H1423.04V319.36H1447.39V319.62H1471.74V319.69H1496.09" stroke="#1F988B"/><path d="M911.82 313.19V297.35H936.17V270.79H960.52V235.89H984.87V197.09H1009.22V161.57H1033.57V134.82H1057.92V118.74H1082.27V115.93H1106.62V126.21H1130.97V143.79H1155.32V168.48H1179.67V195.81H1204.02V221.48H1228.37V246.99H1252.72V268.81H1277.07V286.21H1301.42V299.14H1325.77V308.04H1350.12V313.69H1374.47V316.95H1398.82V318.62H1423.17V319.35H1447.52V319.62H1471.87V319.69H1496.22" stroke="#1E9D89"/><path d="M911.95 313.35V297.77H936.30V271.55H960.65V236.97H985.00V198.32H1009.35V162.75H1033.70V135.78H1058.05V119.29H1082.40V116.06H1106.75V125.90H1131.10V143.16H1155.45V167.64H1179.80V194.90H1204.15V220.56H1228.50V246.16H1252.85V268.12H1277.20V285.69H1301.55V298.77H1325.90V307.81H1350.25V313.56H1374.60V316.88H1398.95V318.59H1423.30V319.34H1447.65V319.62H1472.00V319.69H1496.35" stroke="#1FA287"/><path d="M912.08 313.50V298.18H936.43V272.30H960.78V238.05H985.13V199.54H1009.48V163.92H1033.83V136.74H1058.18V119.86H1082.53V116.20H1106.88V125.60H1131.23V142.54H1155.58V166.80H1179.93V194.00H1204.28V219.63H1228.63V245.32H1252.98V267.43H1277.33V285.17H1301.68V298.41H1326.03V307.58H1350.38V313.43H1374.73V316.81H1399.08V318.56H1423.43V319.33H1447.78V319.61H1472.13V319.69H1496.48" stroke="#22A785"/><path d="M912.21 313.65V298.58H936.56V273.04H960.91V239.12H985.26V200.75H1009.61V165.11H1033.96V137.71H1058.31V120.43H1082.66V116.35H1107.01V125.31H1131.36V141.93H1155.71V165.97H1180.06V193.09H1204.41V218.70H1228.76V244.48H1253.11V266.74H1277.46V284.64H1301.81V298.04H1326.16V307.34H1350.51V313.29H1374.86V316.74H1399.21V318.53H1423.56V319.32H1447.91V319.61H1472.26V319.69H1496.61" stroke="#25AC82"/><path d="M912.34 313.80V298.98H936.69V273.78H961.04V240.18H985.39V201.96H1009.74V166.29H1034.09V138.69H1058.44V121.02H1082.79V116.51H1107.14V125.04H1131.49V141.32H1155.84V165.15H1180.19V192.19H1204.54V217.76H1228.89V243.63H1253.24V266.03H1277.59V284.10H1301.94V297.66H1326.29V307.10H1350.64V313.15H1374.99V316.67H1399.34V318.50H1423.69V319.31H1448.04V319.61H1472.39V319.69H1496.74" stroke="#2CB17E"/><path d="M912.47 313.95V299.37H936.82V274.50H961.17V241.23H985.52V203.17H1009.87V167.47H1034.22V139.68H1058.57V121.62H1082.92V116.69H1107.27V124.78H1131.62V140.73H1155.97V164.33H1180.32V191.29H1204.67V216.83H1229.02V242.78H1253.37V265.33H1277.72V283.56H1302.07V297.28H1326.42V306.86H1350.77V313.01H1375.12V316.60H1399.47V318.46H1423.82V319.30H1448.17V319.61H1472.52V319.69H1496.87" stroke="#32B67A"/><path d="M912.59 314.09V299.76H936.94V275.22H961.29V242.28H985.64V204.37H1009.99V168.66H1034.34V140.67H1058.69V122.23H1083.04V116.89H1107.39V124.53H1131.74V140.15H1156.09V163.52H1180.44V190.39H1204.79V215.89H1229.14V241.93H1253.49V264.61H1277.84V283.01H1302.19V296.89H1326.54V306.61H1350.89V312.86H1375.24V316.52H1399.59V318.43H1423.94V319.29H1448.29V319.60H1472.64V319.69H1496.99" stroke="#3BBB75"/><path d="M912.72 314.23V300.13H937.07V275.93H961.42V243.32H985.77V205.57H1010.12V169.85H1034.47V141.67H1058.82V122.85H1083.17V117.09H1107.52V124.29H1131.87V139.58H1156.22V162.71H1180.57V189.49H1204.92V214.95H1229.27V241.07H1253.62V263.89H1277.97V282.45H1302.32V296.50H1326.67V306.35H1351.02V312.71H1375.37V316.45H1399.72V318.40H1424.07V319.28H1448.42V319.60H1472.77V319.69H1497.12" stroke="#44BF70"/><path d="M912.85 314.37V300.51H937.20V276.63H961.55V244.34H985.90V206.77H1010.25V171.03H1034.60V142.68H1058.95V123.49H1083.30V117.31H1107.65V124.07H1132.00V139.02H1156.35V161.91H1180.70V188.59H1205.05V214.01H1229.40V240.20H1253.75V263.16H1278.10V281.89H1302.45V296.10H1326.80V306.09H1351.15V312.56H1375.50V316.37H1399.85V318.36H1424.20V319.26H1448.55V319.60H1472.90V319.69H1497.25" stroke="#50C46A"/><path d="M912.98 314.50V300.87H937.33V277.32H961.68V245.37H986.03V207.96H1010.38V172.22H1034.73V143.69H1059.08V124.13H1083.43V117.55H1107.78V123.86H1132.13V138.46H1156.48V161.12H1180.83V187.70H1205.18V213.07H1229.53V239.33H1253.88V262.43H1278.23V281.32H1302.58V295.69H1326.93V305.83H1351.28V312.41H1375.63V316.29H1399.98V318.33H1424.33V319.25H1448.68V319.59H1473.03V319.69H1497.38" stroke="#5AC864"/><path d="M913.11 314.64V301.23H937.46V278.00H961.81V246.38H986.16V209.14H1010.51V173.41H1034.86V144.71H1059.21V124.79H1083.56V117.80H1107.91V123.66H1132.26V137.92H1156.61V160.34H1180.96V186.80H1205.31V212.12H1229.66V238.45H1254.01V261.69H1278.36V280.74H1302.71V295.28H1327.06V305.56H1351.41V312.25H1375.76V316.21H1400.11V318.29H1424.46V319.24H1448.81V319.59H1473.16V319.69H1497.51" stroke="#67CC5C"/><path d="M913.24 314.77V301.59H937.59V278.68H961.94V247.38H986.29V210.32H1010.64V174.60H1034.99V145.74H1059.34V125.45H1083.69V118.06H1108.04V123.48H1132.39V137.39H1156.74V159.56H1181.09V185.91H1205.44V211.18H1229.79V237.57H1254.14V260.94H1278.49V280.16H1302.84V294.87H1327.19V305.29H1351.54V312.09H1375.89V316.13H1400.24V318.26H1424.59V319.23H1448.94V319.59H1473.29V319.68H1497.64" stroke="#73D056"/><path d="M913.37 314.90V301.93H937.72V279.34H962.07V248.38H986.42V211.50H1010.77V175.79H1035.12V146.78H1059.47V126.13H1083.82V118.33H1108.17V123.31H1132.52V136.88H1156.87V158.78H1181.22V185.03H1205.57V210.23H1229.92V236.69H1254.27V260.19H1278.62V279.58H1302.97V294.45H1327.32V305.02H1351.67V311.93H1376.02V316.04H1400.37V318.22H1424.72V319.21H1449.07V319.58H1473.42V319.68H1497.77" stroke="#7FD34E"/><path d="M913.50 315.03V302.28H937.85V280.00H962.20V249.37H986.55V212.67H1010.90V176.99H1035.25V147.82H1059.60V126.82H1083.95V118.62H1108.30V123.16H1132.65V136.37H1157.00V158.02H1181.35V184.14H1205.70V209.28H1230.05V235.80H1254.40V259.43H1278.75V278.98H1303.10V294.02H1327.45V304.74H1351.80V311.77H1376.15V315.95H1400.50V318.18H1424.85V319.20H1449.20V319.58H1473.55V319.68H1497.90" stroke="#8ED645"/><path d="M913.63 315.15V302.61H937.98V280.65H962.33V250.35H986.68V213.83H1011.03V178.18H1035.38V148.86H1059.73V127.52H1084.08V118.92H1108.43V123.01H1132.78V135.87H1157.13V157.26H1181.48V183.26H1205.83V208.33H1230.18V234.91H1254.53V258.67H1278.88V278.38H1303.23V293.58H1327.58V304.45H1351.93V311.60H1376.28V315.87H1400.63V318.14H1424.98V319.18H1449.33V319.58H1473.68V319.68H1498.03" stroke="#9BD93C"/><path d="M913.76 315.27V302.94H938.11V281.29H962.46V251.32H986.81V214.99H1011.16V179.37H1035.51V149.91H1059.86V128.23H1084.21V119.23H1108.56V122.88H1132.91V135.38H1157.26V156.51H1181.61V182.38H1205.96V207.37H1230.31V234.01H1254.66V257.90H1279.01V277.77H1303.36V293.15H1327.71V304.16H1352.06V311.42H1376.41V315.78H1400.76V318.10H1425.11V319.17H1449.46V319.57H1473.81V319.68H1498.16" stroke="#AADC32"/><path d="M913.89 315.39V303.27H938.24V281.92H962.59V252.28H986.94V216.15H1011.29V180.56H1035.64V150.97H1059.99V128.95H1084.34V119.56H1108.69V122.77H1133.04V134.91H1157.39V155.76H1181.74V181.50H1206.09V206.42H1230.44V233.11H1254.79V257.12H1279.14V277.16H1303.49V292.70H1327.84V303.87H1352.19V311.25H1376.54V315.68H1400.89V318.06H1425.24V319.15H1449.59V319.57H1473.94V319.68H1498.29" stroke="#B8DE29"/><path d="M914.02 315.51V303.59H938.37V282.55H962.72V253.24H987.07V217.30H1011.42V181.75H1035.77V152.03H1060.12V129.69H1084.47V119.90H1108.82V122.66H1133.17V134.45H1157.52V155.03H1181.87V180.63H1206.22V205.47H1230.57V232.20H1254.92V256.34H1279.27V276.54H1303.62V292.25H1327.97V303.57H1352.32V311.07H1376.67V315.59H1401.02V318.01H1425.37V319.14H1449.72V319.56H1474.07V319.68H1498.42" stroke="#C8E020"/><path d="M914.15 315.63V303.90H938.50V283.16H962.85V254.18H987.20V218.44H1011.55V182.94H1035.90V153.10H1060.25V130.43H1084.60V120.26H1108.95V122.58H1133.30V134.00H1157.65V154.30H1182.00V179.76H1206.35V204.51H1230.70V231.29H1255.05V255.55H1279.40V275.91H1303.75V291.79H1328.10V303.26H1352.45V310.89H1376.80V315.49H1401.15V317.97H1425.50V319.12H1449.85V319.56H1474.20V319.68H1498.55" stroke="#D5E21A"/><path d="M914.28 315.74V304.21H938.63V283.77H962.98V255.12H987.33V219.58H1011.68V184.13H1036.03V154.17H1060.38V131.18H1084.73V120.63H1109.08V122.50H1133.43V133.56H1157.78V153.58H1182.13V178.90H1206.48V203.56H1230.83V230.38H1255.18V254.76H1279.53V275.28H1303.88V291.33H1328.23V302.96H1352.58V310.70H1376.93V315.39H1401.28V317.93H1425.63V319.10H1449.98V319.55H1474.33V319.68H1498.68" stroke="#E5E419"/><path d="M914.41 315.85V304.51H938.76V284.37H963.11V256.05H987.46V220.71H1011.81V185.32H1036.16V155.25H1060.51V131.94H1084.86V121.01H1109.21V122.44H1133.56V133.13H1157.91V152.87H1182.26V178.03H1206.61V202.60H1230.96V229.46H1255.31V253.96H1279.66V274.64H1304.01V290.86H1328.36V302.64H1352.71V310.51H1377.06V315.29H1401.41V317.88H1425.76V319.09H1450.11V319.55H1474.46V319.68H1498.81" stroke="#F1E51D"/><path d="M914.54 315.96V304.81H938.89V284.96H963.24V256.97H987.59V221.84H1011.94V186.51H1036.29V156.33H1060.64V132.71H1084.99V121.40H1109.34V122.39H1133.69V132.71H1158.04V152.17H1182.39V177.18H1206.74V201.64H1231.09V228.54H1255.44V253.15H1279.79V273.99H1304.14V290.39H1328.49V302.32H1352.84V310.32H1377.19V315.19H1401.54V317.83H1425.89V319.07H1450.24V319.54H1474.59V319.68H1498.94" stroke="#FDE725"/></g>
</g>
<rect x="880.00" y="7.50" width="647.90" height="326.70" fill="none" stroke="#1E1E1E" stroke-width="2"/>
<line x1="871.10" x2="880.00" y1="319.70" y2="319.70" stroke="#1E1E1E" stroke-width="3.0"/>
<text x="864.40" y="328.60" font-size="24.4" text-anchor="end" fill="#4D4D4D">0.00</text>
<line x1="871.10" x2="880.00" y1="280.00" y2="280.00" stroke="#1E1E1E" stroke-width="3.0"/>
<text x="864.40" y="288.90" font-size="24.4" text-anchor="end" fill="#4D4D4D">0.02</text>
<line x1="871.10" x2="880.00" y1="240.30" y2="240.30" stroke="#1E1E1E" stroke-width="3.0"/>
<text x="864.40" y="249.20" font-size="24.4" text-anchor="end" fill="#4D4D4D">0.04</text>
<line x1="871.10" x2="880.00" y1="200.60" y2="200.60" stroke="#1E1E1E" stroke-width="3.0"/>
<text x="864.40" y="209.50" font-size="24.4" text-anchor="end" fill="#4D4D4D">0.06</text>
<line x1="871.10" x2="880.00" y1="160.90" y2="160.90" stroke="#1E1E1E" stroke-width="3.0"/>
<text x="864.40" y="169.80" font-size="24.4" text-anchor="end" fill="#4D4D4D">0.08</text>
<line x1="871.10" x2="880.00" y1="121.20" y2="121.20" stroke="#1E1E1E" stroke-width="3.0"/>
<text x="864.40" y="130.10" font-size="24.4" text-anchor="end" fill="#4D4D4D">0.10</text>
<line x1="908.45" x2="908.45" y1="334.20" y2="342.50" stroke="#1E1E1E" stroke-width="3.0"/>
<text x="908.45" y="367.10" font-size="24.4" text-anchor="middle" fill="#4D4D4D">4</text>
<line x1="1054.55" x2="1054.55" y1="334.20" y2="342.50" stroke="#1E1E1E" stroke-width="3.0"/>
<text x="1054.55" y="367.10" font-size="24.4" text-anchor="middle" fill="#4D4D4D">10</text>
<line x1="1200.65" x2="1200.65" y1="334.20" y2="342.50" stroke="#1E1E1E" stroke-width="3.0"/>
<text x="1200.65" y="367.10" font-size="24.4" text-anchor="middle" fill="#4D4D4D">16</text>
<line x1="1346.75" x2="1346.75" y1="334.20" y2="342.50" stroke="#1E1E1E" stroke-width="3.0"/>
<text x="1346.75" y="367.10" font-size="24.4" text-anchor="middle" fill="#4D4D4D">22</text>
<line x1="1492.85" x2="1492.85" y1="334.20" y2="342.50" stroke="#1E1E1E" stroke-width="3.0"/>
<text x="1492.85" y="367.10" font-size="24.4" text-anchor="middle" fill="#4D4D4D">28</text>
<g clip-path="url(#cp2)">
<line x1="138.70" x2="786.60" y1="694.95" y2="694.95" stroke="#EBEBEB" stroke-width="1.3"/>
<line x1="138.70" x2="786.60" y1="655.25" y2="655.25" stroke="#EBEBEB" stroke-width="1.3"/>
<line x1="138.70" x2="786.60" y1="615.55" y2="615.55" stroke="#EBEBEB" stroke-width="1.3"/>
<line x1="138.70" x2="786.60" y1="575.85" y2="575.85" stroke="#EBEBEB" stroke-width="1.3"/>
<line x1="138.70" x2="786.60" y1="536.15" y2="536.15" stroke="#EBEBEB" stroke-width="1.3"/>
<line x1="138.70" x2="786.60" y1="496.45" y2="496.45" stroke="#EBEBEB" stroke-width="1.3"/>
<line x1="138.70" x2="786.60" y1="456.75" y2="456.75" stroke="#EBEBEB" stroke-width="1.3"/>
<line x1="138.70" x2="786.60" y1="436.90" y2="436.90" stroke="#EBEBEB" stroke-width="1.3"/>
<line x1="240.15" x2="240.15" y1="402.60" y2="729.30" stroke="#EBEBEB" stroke-width="1.3"/>
<line x1="386.25" x2="386.25" y1="402.60" y2="729.30" stroke="#EBEBEB" stroke-width="1.3"/>
<line x1="532.35" x2="532.35" y1="402.60" y2="729.30" stroke="#EBEBEB" stroke-width="1.3"/>
<line x1="678.45" x2="678.45" y1="402.60" y2="729.30" stroke="#EBEBEB" stroke-width="1.3"/>
<line x1="138.70" x2="786.60" y1="714.80" y2="714.80" stroke="#EBEBEB" stroke-width="2.5"/>
<line x1="138.70" x2="786.60" y1="675.10" y2="675.10" stroke="#EBEBEB" stroke-width="2.5"/>
<line x1="138.70" x2="786.60" y1="635.40" y2="635.40" stroke="#EBEBEB" stroke-width="2.5"/>
<line x1="138.70" x2="786.60" y1="595.70" y2="595.70" stroke="#EBEBEB" stroke-width="2.5"/>
<line x1="138.70" x2="786.60" y1="556.00" y2="556.00" stroke="#EBEBEB" stroke-width="2.5"/>
<line x1="138.70" x2="786.60" y1="516.30" y2="516.30" stroke="#EBEBEB" stroke-width="2.5"/>
<line x1="138.70" x2="786.60" y1="476.60" y2="476.60" stroke="#EBEBEB" stroke-width="2.5"/>
<line x1="167.10" x2="167.10" y1="402.60" y2="729.30" stroke="#EBEBEB" stroke-width="2.5"/>
<line x1="313.20" x2="313.20" y1="402.60" y2="729.30" stroke="#EBEBEB" stroke-width="2.5"/>
<line x1="459.30" x2="459.30" y1="402.60" y2="729.30" stroke="#EBEBEB" stroke-width="2.5"/>
<line x1="605.40" x2="605.40" y1="402.60" y2="729.30" stroke="#EBEBEB" stroke-width="2.5"/>
<line x1="751.50" x2="751.50" y1="402.60" y2="729.30" stroke="#EBEBEB" stroke-width="2.5"/>
<text x="763.30" y="438.90" font-size="18.1" text-anchor="end" fill="#000">positive score</text>
<rect x="502.20" y="449.30" width="262.50" height="22.00" fill="url(#vir)"/>
<line x1="514.87" x2="514.87" y1="449.30" y2="453.70" stroke="#fff" stroke-width="1.1"/>
<line x1="514.87" x2="514.87" y1="466.90" y2="471.30" stroke="#fff" stroke-width="1.1"/>
<text x="514.87" y="493.00" font-size="18.1" text-anchor="middle" fill="#000">5</text>
<line x1="574.07" x2="574.07" y1="449.30" y2="453.70" stroke="#fff" stroke-width="1.1"/>
<line x1="574.07" x2="574.07" y1="466.90" y2="471.30" stroke="#fff" stroke-width="1.1"/>
<text x="574.07" y="493.00" font-size="18.1" text-anchor="middle" fill="#000">10</text>
<line x1="633.27" x2="633.27" y1="449.30" y2="453.70" stroke="#fff" stroke-width="1.1"/>
<line x1="633.27" x2="633.27" y1="466.90" y2="471.30" stroke="#fff" stroke-width="1.1"/>
<text x="633.27" y="493.00" font-size="18.1" text-anchor="middle" fill="#000">15</text>
<line x1="692.47" x2="692.47" y1="449.30" y2="453.70" stroke="#fff" stroke-width="1.1"/>
<line x1="692.47" x2="692.47" y1="466.90" y2="471.30" stroke="#fff" stroke-width="1.1"/>
<text x="692.47" y="493.00" font-size="18.1" text-anchor="middle" fill="#000">20</text>
<line x1="751.68" x2="751.68" y1="449.30" y2="453.70" stroke="#fff" stroke-width="1.1"/>
<line x1="751.68" x2="751.68" y1="466.90" y2="471.30" stroke="#fff" stroke-width="1.1"/>
<text x="751.68" y="493.00" font-size="18.1" text-anchor="middle" fill="#000">25</text>
<g fill="none" stroke-width="3.00" stroke-linejoin="round" stroke-opacity="0.55"><path d="M167.10 485.33V479.97H191.45V493.27H215.80V500.02H240.15V531.78H264.50V552.87H288.85V574.03H313.20V594.03H337.55V612.51H361.90V629.32H386.25V644.36H410.60V657.64H434.95V669.19H459.30V679.09H483.65V687.44H508.00V694.35H532.35V699.96H556.70V704.41H581.05V707.83H605.40V710.38H629.75V712.19H654.10V713.41H678.45V714.16H702.80V714.57H727.15V714.75H751.50" stroke="#440154"/><path d="M167.38 534.72V502.01H191.73V503.99H216.08V503.79H240.43V527.02H264.78V544.23H289.13V564.08H313.48V583.92H337.83V602.99H362.18V620.82H386.53V637.10H410.88V651.68H435.23V664.48H459.58V675.52H483.93V684.85H508.28V692.57H532.63V698.82H556.98V703.73H581.33V707.48H605.68V710.23H630.03V712.16H654.38V713.42H678.73V714.18H703.08V714.58H727.43V714.75H751.78" stroke="#471164"/><path d="M167.65 584.84V529.00H192.00V518.68H216.35V506.57H240.70V518.68H265.05V531.01H289.40V549.60H313.75V569.96H338.10V590.65H362.45V610.65H386.80V629.28H411.15V646.11H435.50V660.89H459.85V673.54H484.20V684.10H508.55V692.66H532.90V699.41H557.25V704.55H581.60V708.32H605.95V710.96H630.30V712.71H654.65V713.78H679.00V714.38H703.35V714.67H727.70V714.78H752.05" stroke="#482173"/><path d="M167.93 625.76V560.37H192.28V538.73H216.63V511.34H240.98V507.76H265.33V519.98H289.68V535.36H314.03V554.92H338.38V576.47H362.73V598.35H387.08V619.34H411.43V638.62H435.78V655.68H460.13V670.25H484.48V682.31H508.83V691.94H533.18V699.37H557.53V704.88H581.88V708.78H606.23V711.40H630.58V713.05H654.93V714.00H679.28V714.49H703.63V714.71H727.98V714.79H752.33" stroke="#472F7D"/><path d="M168.21 661.22V593.12H192.56V562.75H216.91V518.68H241.26V494.86H265.61V503.67H289.96V515.00H314.31V534.40H338.66V558.46H363.01V584.31H387.36V609.73H411.71V633.16H436.06V653.62H460.41V670.66H484.76V684.23H509.11V694.56H533.46V702.06H557.81V707.23H582.16V710.61H606.51V712.66H630.86V713.82H655.21V714.41H679.56V714.67H703.91V714.77H728.26V714.80H752.61" stroke="#433E85"/><path d="M168.48 682.74V622.89H192.83V588.16H217.18V535.95H241.53V500.02H265.88V495.40H290.23V499.63H314.58V515.98H338.93V540.36H363.28V568.79H387.63V597.91H411.98V625.21H436.33V649.08H460.68V668.73H485.03V684.03H509.38V695.30H533.73V703.14H558.08V708.28H582.43V711.42H606.78V713.21H631.13V714.13H655.48V714.56H679.83V714.73H704.18V714.78H728.53V714.80H752.88" stroke="#3E4C8A"/><path d="M168.76 696.57V648.50H193.11V612.18H217.46V556.20H241.81V510.94H266.16V488.81H290.51V484.24H314.86V496.49H339.21V521.08H363.56V552.71H387.91V586.46H412.26V618.49H436.61V646.28H460.96V668.65H485.31V685.46H509.66V697.26H534.01V705.00H558.36V709.73H582.71V712.40H607.06V713.78H631.41V714.42H655.76V714.68H680.11V714.77H704.46V714.79H728.81V714.80H753.16" stroke="#38588C"/><path d="M169.04 704.16V668.15H193.39V634.61H217.74V577.64H242.09V544.69H266.44V493.32H290.79V478.05H315.14V482.66H339.49V503.64H363.84V535.34H388.19V571.67H412.54V607.43H436.89V639.01H461.24V664.51H485.59V683.52H509.94V696.63H534.29V705.01H558.64V709.95H582.99V712.61H607.34V713.92H631.69V714.49H656.04V714.71H680.39V714.78H704.74V714.80H729.09V714.80H753.44" stroke="#32648E"/><path d="M169.31 708.08V682.44H193.66V651.68H218.01V597.68H242.36V562.75H266.71V506.73H291.06V481.82H315.41V477.16H339.76V491.31H364.11V519.48H388.46V555.39H412.81V592.99H437.16V627.59H461.51V656.33H485.86V678.19H510.21V693.48H534.56V703.32H558.91V709.13H583.26V712.27H607.61V713.79H631.96V714.45H656.31V714.70H680.66V714.78H705.01V714.80H729.36V714.80H753.71" stroke="#2D708E"/><path d="M169.59 710.21V692.17H193.94V663.98H218.29V619.16H242.64V579.62H266.99V524.30H291.34V492.35H315.69V478.99H340.04V484.99H364.39V507.21H388.74V540.08H413.09V577.39H437.44V613.71H461.79V645.28H486.14V670.21H510.49V688.23H534.84V700.18H559.19V707.44H583.54V711.45H607.89V713.44H632.24V714.32H656.59V714.66H680.94V714.77H705.29V714.79H729.64V714.80H753.99" stroke="#297A8E"/><path d="M169.87 711.44V699.04H194.22V673.91H218.57V634.56H242.92V594.91H267.27V542.18H291.62V505.89H315.97V485.59H340.32V483.84H364.67V499.26H389.02V527.51H413.37V562.80H437.72V599.44H462.07V632.97H486.42V660.66H510.77V681.53H535.12V695.91H559.47V704.98H583.82V710.18H608.17V712.87H632.52V714.10H656.87V714.59H681.22V714.75H705.57V714.79H729.92V714.80H754.27" stroke="#25858E"/><path d="M170.14 711.94V701.23H194.49V680.06H218.84V643.56H243.19V600.22H267.54V555.78H291.89V518.32H316.24V494.40H340.59V487.44H364.94V497.27H389.29V520.74H413.64V552.86H437.99V588.23H462.34V622.20H486.69V651.50H511.04V674.53H535.39V691.10H559.74V702.00H584.09V708.53H608.44V712.06H632.79V713.76H657.14V714.47H681.49V714.72H705.84V714.78H730.19V714.80H754.54" stroke="#21918C"/><path d="M170.42 712.13V702.16H194.77V681.10H219.12V648.36H243.47V607.36H267.82V564.51H292.17V527.23H316.52V501.81H340.87V491.94H365.22V498.12H389.57V517.98H413.92V547.26H438.27V580.98H462.62V614.55H486.97V644.49H511.32V668.81H535.67V686.91H560.02V699.24H584.37V706.91H608.72V711.22H633.07V713.38H657.42V714.33H681.77V714.67H706.12V714.78H730.47V714.80H754.82" stroke="#1E9B8A"/><path d="M170.70 712.14V702.43H195.05V682.22H219.40V651.05H243.75V612.04H268.10V571.00H292.45V534.65H316.80V508.87H341.15V497.28H365.50V500.75H389.85V517.53H414.20V544.00H438.55V575.71H462.90V608.29H487.25V638.26H511.60V663.37H535.95V682.66H560.30V696.28H584.65V705.06H609.00V710.20H633.35V712.90H657.70V714.13H682.05V714.61H706.40V714.76H730.75V714.80H755.10" stroke="#21A685"/><path d="M170.97 712.16V702.75H195.32V683.43H219.67V653.83H244.02V616.80H268.37V577.55H292.72V542.18H317.07V516.13H341.42V502.96H365.77V503.83H390.12V517.55H414.47V541.13H438.82V570.64H463.17V602.00H487.52V631.77H511.87V657.51H536.22V677.94H560.57V692.86H584.92V702.85H609.27V708.94H633.62V712.27H657.97V713.87H682.32V714.53H706.67V714.74H731.02V714.79H755.37" stroke="#2AB07F"/><path d="M171.25 712.16V703.03H195.60V684.61H219.95V656.67H244.30V621.76H268.65V584.52H293.00V550.39H317.35V524.31H341.70V509.71H366.05V507.98H390.40V518.45H414.75V538.79H439.10V565.64H463.45V595.33H487.80V624.52H512.15V650.66H536.50V672.18H560.85V688.51H585.20V699.91H609.55V707.18H633.90V711.35H658.25V713.47H682.60V714.38H706.95V714.71H731.30V714.79H755.65" stroke="#3BBB75"/><path d="M171.53 712.08V703.09H195.88V685.49H220.23V659.26H244.58V626.74H268.93V591.96H293.28V559.63H317.63V534.06H341.98V518.40H366.33V514.15H390.68V521.11H415.03V537.65H439.38V561.08H463.73V588.29H488.08V616.21H512.43V642.29H536.78V664.72H561.13V682.56H585.48V695.65H609.83V704.46H634.18V709.84H658.53V712.75H682.88V714.11H707.23V714.63H731.58V714.78H755.93" stroke="#52C569"/><path d="M171.80 711.86V702.77H196.15V685.79H220.50V661.24H244.85V631.32H269.20V599.48H293.55V569.61H317.90V545.29H342.25V529.20H366.60V522.82H390.95V526.31H415.30V538.65H439.65V557.93H464.00V581.69H488.35V607.36H512.70V632.55H537.05V655.37H561.40V674.54H585.75V689.48H610.10V700.23H634.45V707.29H658.80V711.44H683.15V713.57H707.50V714.47H731.85V714.75H756.20" stroke="#69CD5B"/><path d="M172.08 711.50V702.17H196.43V685.75H220.78V662.92H245.13V635.76H269.48V607.13H293.83V580.12H318.18V557.55H342.53V541.60H366.88V533.57H391.23V533.86H415.58V541.98H439.93V556.69H464.28V576.27H488.63V598.73H512.98V622.04H537.33V644.41H561.68V664.40H586.03V681.06H610.38V693.97H634.73V703.17H659.08V709.10H683.43V712.48H707.78V714.09H732.13V714.68H756.48" stroke="#86D549"/><path d="M172.36 710.98V701.29H196.71V685.42H221.06V664.40H245.41V640.11H269.76V614.85H294.11V590.97H318.46V570.55H342.81V555.26H367.16V546.17H391.51V543.76H415.86V547.92H440.21V557.98H464.56V572.89H488.91V591.27H513.26V611.62H537.61V632.42H561.96V652.29H586.31V670.09H610.66V685.03H635.01V696.68H659.36V705.01H683.71V710.33H708.06V713.24H732.41V714.48H756.76" stroke="#A5DB36"/><path d="M172.63 710.23V700.05H196.98V684.74H221.33V665.57H245.68V644.19H270.03V622.36H294.38V601.73H318.73V583.78H343.08V569.66H367.43V560.18H391.78V555.80H416.13V556.61H440.48V562.35H464.83V572.50H489.18V586.25H513.53V602.65H537.88V620.62H562.23V639.05H586.58V656.86H610.93V673.12H635.28V687.06H659.63V698.16H683.98V706.21H708.33V711.33H732.68V713.95H757.03" stroke="#C2DF23"/><path d="M172.91 709.15V698.37H197.26V683.67H221.61V666.38H245.96V647.85H270.31V629.34H294.66V611.94H319.01V596.58H343.36V584.02H367.71V574.79H392.06V569.27H416.41V567.60H440.76V569.78H465.11V575.60H489.46V584.72H513.81V596.65H538.16V610.76H562.51V626.36H586.86V642.66H611.21V658.85H635.56V674.13H659.91V687.71H684.26V698.94H708.61V707.31H732.96V712.55H757.31" stroke="#E2E418"/><path d="M173.19 708.14V697.17H197.54V683.41H221.89V668.06H246.24V652.13H270.59V636.45H294.94V621.71H319.29V608.50H343.64V597.28H367.99V588.43H392.34V582.21H416.69V578.79H441.04V578.27H465.39V580.62H489.74V585.77H514.09V593.52H538.44V603.63H562.79V615.73H587.14V629.41H611.49V644.13H635.84V659.32H660.19V674.27H684.54V688.22H708.89V700.30H733.24V709.52H757.59" stroke="#FDE725"/></g>
</g>
<rect x="138.70" y="402.60" width="647.90" height="326.70" fill="none" stroke="#1E1E1E" stroke-width="2"/>
<line x1="129.80" x2="138.70" y1="714.80" y2="714.80" stroke="#1E1E1E" stroke-width="3.0"/>
<text x="123.10" y="723.70" font-size="24.4" text-anchor="end" fill="#4D4D4D">0.00</text>
<line x1="129.80" x2="138.70" y1="675.10" y2="675.10" stroke="#1E1E1E" stroke-width="3.0"/>
<text x="123.10" y="684.00" font-size="24.4" text-anchor="end" fill="#4D4D4D">0.02</text>
<line x1="129.80" x2="138.70" y1="635.40" y2="635.40" stroke="#1E1E1E" stroke-width="3.0"/>
<text x="123.10" y="644.30" font-size="24.4" text-anchor="end" fill="#4D4D4D">0.04</text>
<line x1="129.80" x2="138.70" y1="595.70" y2="595.70" stroke="#1E1E1E" stroke-width="3.0"/>
<text x="123.10" y="604.60" font-size="24.4" text-anchor="end" fill="#4D4D4D">0.06</text>
<line x1="129.80" x2="138.70" y1="556.00" y2="556.00" stroke="#1E1E1E" stroke-width="3.0"/>
<text x="123.10" y="564.90" font-size="24.4" text-anchor="end" fill="#4D4D4D">0.08</text>
<line x1="129.80" x2="138.70" y1="516.30" y2="516.30" stroke="#1E1E1E" stroke-width="3.0"/>
<text x="123.10" y="525.20" font-size="24.4" text-anchor="end" fill="#4D4D4D">0.10</text>
<line x1="129.80" x2="138.70" y1="476.60" y2="476.60" stroke="#1E1E1E" stroke-width="3.0"/>
<text x="123.10" y="485.50" font-size="24.4" text-anchor="end" fill="#4D4D4D">0.12</text>
<line x1="167.10" x2="167.10" y1="729.30" y2="737.60" stroke="#1E1E1E" stroke-width="3.0"/>
<text x="167.10" y="762.20" font-size="24.4" text-anchor="middle" fill="#4D4D4D">4</text>
<line x1="313.20" x2="313.20" y1="729.30" y2="737.60" stroke="#1E1E1E" stroke-width="3.0"/>
<text x="313.20" y="762.20" font-size="24.4" text-anchor="middle" fill="#4D4D4D">10</text>
<line x1="459.30" x2="459.30" y1="729.30" y2="737.60" stroke="#1E1E1E" stroke-width="3.0"/>
<text x="459.30" y="762.20" font-size="24.4" text-anchor="middle" fill="#4D4D4D">16</text>
<line x1="605.40" x2="605.40" y1="729.30" y2="737.60" stroke="#1E1E1E" stroke-width="3.0"/>
<text x="605.40" y="762.20" font-size="24.4" text-anchor="middle" fill="#4D4D4D">22</text>
<line x1="751.50" x2="751.50" y1="729.30" y2="737.60" stroke="#1E1E1E" stroke-width="3.0"/>
<text x="751.50" y="762.20" font-size="24.4" text-anchor="middle" fill="#4D4D4D">28</text>
<g clip-path="url(#cp3)">
<line x1="880.00" x2="1527.90" y1="694.95" y2="694.95" stroke="#EBEBEB" stroke-width="1.3"/>
<line x1="880.00" x2="1527.90" y1="655.25" y2="655.25" stroke="#EBEBEB" stroke-width="1.3"/>
<line x1="880.00" x2="1527.90" y1="615.55" y2="615.55" stroke="#EBEBEB" stroke-width="1.3"/>
<line x1="880.00" x2="1527.90" y1="575.85" y2="575.85" stroke="#EBEBEB" stroke-width="1.3"/>
<line x1="880.00" x2="1527.90" y1="536.15" y2="536.15" stroke="#EBEBEB" stroke-width="1.3"/>
<line x1="880.00" x2="1527.90" y1="496.45" y2="496.45" stroke="#EBEBEB" stroke-width="1.3"/>
<line x1="880.00" x2="1527.90" y1="476.60" y2="476.60" stroke="#EBEBEB" stroke-width="1.3"/>
<line x1="981.50" x2="981.50" y1="402.60" y2="729.30" stroke="#EBEBEB" stroke-width="1.3"/>
<line x1="1127.60" x2="1127.60" y1="402.60" y2="729.30" stroke="#EBEBEB" stroke-width="1.3"/>
<line x1="1273.70" x2="1273.70" y1="402.60" y2="729.30" stroke="#EBEBEB" stroke-width="1.3"/>
<line x1="1419.80" x2="1419.80" y1="402.60" y2="729.30" stroke="#EBEBEB" stroke-width="1.3"/>
<line x1="880.00" x2="1527.90" y1="714.80" y2="714.80" stroke="#EBEBEB" stroke-width="2.5"/>
<line x1="880.00" x2="1527.90" y1="675.10" y2="675.10" stroke="#EBEBEB" stroke-width="2.5"/>
<line x1="880.00" x2="1527.90" y1="635.40" y2="635.40" stroke="#EBEBEB" stroke-width="2.5"/>
<line x1="880.00" x2="1527.90" y1="595.70" y2="595.70" stroke="#EBEBEB" stroke-width="2.5"/>
<line x1="880.00" x2="1527.90" y1="556.00" y2="556.00" stroke="#EBEBEB" stroke-width="2.5"/>
<line x1="880.00" x2="1527.90" y1="516.30" y2="516.30" stroke="#EBEBEB" stroke-width="2.5"/>
<line x1="908.45" x2="908.45" y1="402.60" y2="729.30" stroke="#EBEBEB" stroke-width="2.5"/>
<line x1="1054.55" x2="1054.55" y1="402.60" y2="729.30" stroke="#EBEBEB" stroke-width="2.5"/>
<line x1="1200.65" x2="1200.65" y1="402.60" y2="729.30" stroke="#EBEBEB" stroke-width="2.5"/>
<line x1="1346.75" x2="1346.75" y1="402.60" y2="729.30" stroke="#EBEBEB" stroke-width="2.5"/>
<line x1="1492.85" x2="1492.85" y1="402.60" y2="729.30" stroke="#EBEBEB" stroke-width="2.5"/>
<text x="1504.50" y="438.90" font-size="18.1" text-anchor="end" fill="#000">disorganized score</text>
<rect x="1243.80" y="449.30" width="261.50" height="22.00" fill="url(#vir)"/>
<line x1="1273.55" x2="1273.55" y1="449.30" y2="453.70" stroke="#fff" stroke-width="1.1"/>
<line x1="1273.55" x2="1273.55" y1="466.90" y2="471.30" stroke="#fff" stroke-width="1.1"/>
<text x="1273.55" y="493.00" font-size="18.1" text-anchor="middle" fill="#000">5</text>
<line x1="1345.74" x2="1345.74" y1="449.30" y2="453.70" stroke="#fff" stroke-width="1.1"/>
<line x1="1345.74" x2="1345.74" y1="466.90" y2="471.30" stroke="#fff" stroke-width="1.1"/>
<text x="1345.74" y="493.00" font-size="18.1" text-anchor="middle" fill="#000">10</text>
<line x1="1417.94" x2="1417.94" y1="449.30" y2="453.70" stroke="#fff" stroke-width="1.1"/>
<line x1="1417.94" x2="1417.94" y1="466.90" y2="471.30" stroke="#fff" stroke-width="1.1"/>
<text x="1417.94" y="493.00" font-size="18.1" text-anchor="middle" fill="#000">15</text>
<line x1="1490.14" x2="1490.14" y1="449.30" y2="453.70" stroke="#fff" stroke-width="1.1"/>
<line x1="1490.14" x2="1490.14" y1="466.90" y2="471.30" stroke="#fff" stroke-width="1.1"/>
<text x="1490.14" y="493.00" font-size="18.1" text-anchor="middle" fill="#000">20</text>
<g fill="none" stroke-width="3.00" stroke-linejoin="round" stroke-opacity="0.55"><path d="M908.45 702.53V677.68H932.80V643.94H957.15V606.42H981.50V571.48H1005.85V543.49H1030.20V526.34H1054.55V519.96H1078.90V523.87H1103.25V537.54H1127.60V556.79H1151.95V580.22H1176.30V603.64H1200.65V627.66H1225.00V648.76H1249.35V667.57H1273.70V682.81H1298.05V694.41H1322.40V702.71H1346.75V708.22H1371.10V711.58H1395.45V713.43H1419.80V714.32H1444.15V714.68H1468.50V714.78H1492.85" stroke="#440154"/><path d="M908.79 703.27V679.17H933.14V645.71H957.49V608.00H981.84V572.44H1006.19V543.64H1030.54V525.61H1054.89V518.58H1079.24V522.18H1103.59V535.63H1127.94V555.14H1152.29V578.89H1176.64V602.88H1200.99V627.32H1225.34V648.84H1249.69V667.87H1274.04V683.20H1298.39V694.81H1322.74V703.04H1347.09V708.46H1371.44V711.73H1395.79V713.51H1420.14V714.36H1444.49V714.69H1468.84V714.78H1493.19" stroke="#481668"/><path d="M909.13 703.98V680.60H933.48V647.47H957.83V609.59H982.18V573.43H1006.53V543.83H1030.88V524.91H1055.23V517.22H1079.58V520.50H1103.93V533.71H1128.28V553.48H1152.63V577.55H1176.98V602.12H1201.33V626.98H1225.68V648.92H1250.03V668.17H1274.38V683.59H1298.73V695.19H1323.08V703.36H1347.43V708.69H1371.78V711.88H1396.13V713.59H1420.48V714.39H1444.83V714.70H1469.18V714.79H1493.53" stroke="#482878"/><path d="M909.46 704.64V681.99H933.81V649.20H958.16V611.20H982.51V574.46H1006.86V544.07H1031.21V524.25H1055.56V515.89H1079.91V518.82H1104.26V531.80H1128.61V551.81H1152.96V576.22H1177.31V601.36H1201.66V626.64H1226.01V649.01H1250.36V668.47H1274.71V683.98H1299.06V695.58H1323.41V703.68H1347.76V708.92H1372.11V712.02H1396.46V713.66H1420.81V714.42H1445.16V714.71H1469.51V714.79H1493.86" stroke="#443983"/><path d="M909.80 705.27V683.33H934.15V650.90H958.50V612.82H982.85V575.52H1007.20V544.35H1031.55V523.62H1055.90V514.57H1080.25V517.16H1104.60V529.88H1128.95V550.14H1153.30V574.88H1177.65V600.60H1202.00V626.31H1226.35V649.10H1250.70V668.76H1275.05V684.36H1299.40V695.95H1323.75V703.98H1348.10V709.13H1372.45V712.15H1396.80V713.73H1421.15V714.45H1445.50V714.71H1469.85V714.79H1494.20" stroke="#3E4989"/><path d="M910.14 705.86V684.62H934.49V652.58H958.84V614.44H983.19V576.62H1007.54V544.67H1031.89V523.03H1056.24V513.28H1080.59V515.50H1104.94V527.96H1129.29V548.46H1153.64V573.53H1177.99V599.84H1202.34V625.97H1226.69V649.19H1251.04V669.06H1275.39V684.74H1299.74V696.32H1324.09V704.28H1348.44V709.34H1372.79V712.27H1397.14V713.79H1421.49V714.47H1445.84V714.72H1470.19V714.79H1494.54" stroke="#375A8C"/><path d="M910.48 706.42V685.86H934.83V654.24H959.18V616.07H983.53V577.76H1007.88V545.04H1032.23V522.48H1056.58V512.01H1080.93V513.85H1105.28V526.04H1129.63V546.78H1153.98V572.18H1178.33V599.07H1202.68V625.64H1227.03V649.28H1251.38V669.36H1275.73V685.12H1300.08V696.69H1324.43V704.58H1348.78V709.55H1373.13V712.40H1397.48V713.85H1421.83V714.50H1446.18V714.73H1470.53V714.79H1494.88" stroke="#31688E"/><path d="M910.82 706.94V687.06H935.17V655.86H959.52V617.70H983.87V578.92H1008.22V545.45H1032.57V521.97H1056.92V510.77H1081.27V512.21H1105.62V524.11H1129.97V545.09H1154.32V570.83H1178.67V598.31H1203.02V625.31H1227.37V649.38H1251.72V669.66H1276.07V685.50H1300.42V697.04H1324.77V704.86H1349.12V709.74H1373.47V712.51H1397.82V713.91H1422.17V714.52H1446.52V714.74H1470.87V714.79H1495.22" stroke="#2B758E"/><path d="M911.16 707.43V688.21H935.51V657.45H959.86V619.34H984.21V580.12H1008.56V545.90H1032.91V521.50H1057.26V509.55H1081.61V510.58H1105.96V522.19H1130.31V543.40H1154.66V569.48H1179.01V597.55H1203.36V624.98H1227.71V649.47H1252.06V669.95H1276.41V685.87H1300.76V697.40H1325.11V705.14H1349.46V709.93H1373.81V712.62H1398.16V713.96H1422.51V714.54H1446.86V714.74H1471.21V714.79H1495.56" stroke="#26828E"/><path d="M911.49 707.90V689.32H935.84V659.02H960.19V620.98H984.54V581.34H1008.89V546.40H1033.24V521.06H1057.59V508.36H1081.94V508.96H1106.29V520.27H1130.64V541.71H1154.99V568.12H1179.34V596.78H1203.69V624.65H1228.04V649.57H1252.39V670.25H1276.74V686.23H1301.09V697.74H1325.44V705.41H1349.79V710.11H1374.14V712.72H1398.49V714.01H1422.84V714.56H1447.19V714.75H1471.54V714.79H1495.89" stroke="#21918C"/><path d="M911.83 707.80V689.58H936.18V659.41H960.53V621.55H984.88V582.27H1009.23V547.75H1033.58V522.72H1057.93V510.04H1082.28V510.21H1106.63V521.27H1130.98V542.14H1155.33V567.92H1179.68V596.13H1204.03V623.61H1228.38V648.30H1252.73V669.07H1277.08V685.25H1301.43V697.00H1325.78V704.91H1350.13V709.81H1374.48V712.56H1398.83V713.94H1423.18V714.53H1447.53V714.74H1471.88V714.79H1496.23" stroke="#1F9E89"/><path d="M912.17 707.70V689.83H936.52V659.79H960.87V622.11H985.22V583.19H1009.57V549.09H1033.92V524.37H1058.27V511.73H1082.62V511.49H1106.97V522.30H1131.32V542.61H1155.67V567.76H1180.02V595.51H1204.37V622.60H1228.72V647.04H1253.07V667.88H1277.42V684.25H1301.77V696.24H1326.12V704.39H1350.47V709.49H1374.82V712.39H1399.17V713.86H1423.52V714.50H1447.87V714.73H1472.22V714.79H1496.57" stroke="#25AB82"/><path d="M912.51 707.59V690.07H936.86V660.16H961.21V622.66H985.56V584.09H1009.91V550.41H1034.26V526.01H1058.61V513.41H1082.96V512.77H1107.31V523.35H1131.66V543.11H1156.01V567.63H1180.36V594.92H1204.71V621.60H1229.06V645.78H1253.41V666.68H1277.76V683.23H1302.11V695.45H1326.46V703.85H1350.81V709.15H1375.16V712.21H1399.51V713.78H1423.86V714.47H1448.21V714.72H1472.56V714.79H1496.91" stroke="#35B779"/><path d="M912.85 707.48V690.31H937.20V660.53H961.55V623.19H985.90V584.97H1010.25V551.71H1034.60V527.63H1058.95V515.09H1083.30V514.07H1107.65V524.43H1132.00V543.65H1156.35V567.55H1180.70V594.37H1205.05V620.63H1229.40V644.54H1253.75V665.48H1278.10V682.20H1302.45V694.65H1326.80V703.28H1351.15V708.80H1375.50V712.02H1399.85V713.69H1424.20V714.44H1448.55V714.71H1472.90V714.79H1497.25" stroke="#4EC36B"/><path d="M913.18 707.37V690.54H937.53V660.88H961.88V623.71H986.23V585.83H1010.58V553.00H1034.93V529.24H1059.28V516.77H1083.63V515.37H1107.98V525.54H1132.33V544.23H1156.68V567.51H1181.03V593.85H1205.38V619.68H1229.73V643.30H1254.08V664.28H1278.43V681.15H1302.78V693.83H1327.13V702.70H1351.48V708.43H1375.83V711.81H1400.18V713.59H1424.53V714.40H1448.88V714.70H1473.23V714.79H1497.58" stroke="#6ECE58"/><path d="M913.52 707.25V690.76H937.87V661.22H962.22V624.22H986.57V586.69H1010.92V554.27H1035.27V530.84H1059.62V518.44H1083.97V516.69H1108.32V526.67H1132.67V544.84H1157.02V567.50H1181.37V593.37H1205.72V618.76H1230.07V642.08H1254.42V663.08H1278.77V680.10H1303.12V692.99H1327.47V702.10H1351.82V708.05H1376.17V711.59H1400.52V713.48H1424.87V714.36H1449.22V714.69H1473.57V714.79H1497.92" stroke="#90D743"/><path d="M913.86 707.12V690.97H938.21V661.56H962.56V624.71H986.91V587.52H1011.26V555.52H1035.61V532.42H1059.96V520.12H1084.31V518.02H1108.66V527.82H1133.01V545.48H1157.36V567.53H1181.71V592.92H1206.06V617.86H1230.41V640.86H1254.76V661.87H1279.11V679.02H1303.46V692.14H1327.81V701.48H1352.16V707.65H1376.51V711.36H1400.86V713.37H1425.21V714.31H1449.56V714.68H1473.91V714.78H1498.26" stroke="#B5DE2B"/><path d="M914.20 706.99V691.18H938.55V661.88H962.90V625.20H987.25V588.34H1011.60V556.76H1035.95V533.99H1060.30V521.78H1084.65V519.36H1109.00V529.00H1133.35V546.16H1157.70V567.60H1182.05V592.51H1206.40V616.99H1230.75V639.66H1255.10V660.66H1279.45V677.94H1303.80V691.26H1328.15V700.84H1352.50V707.22H1376.85V711.12H1401.20V713.25H1425.55V714.27H1449.90V714.66H1474.25V714.78H1498.60" stroke="#DAE319"/><path d="M914.54 706.86V691.38H938.89V662.20H963.24V625.67H987.59V589.15H1011.94V557.98H1036.29V535.55H1060.64V523.45H1084.99V520.70H1109.34V530.19H1133.69V546.87H1158.04V567.71H1182.39V592.13H1206.74V616.15H1231.09V638.48H1255.44V659.46H1279.79V676.85H1304.14V690.36H1328.49V700.18H1352.84V706.78H1377.19V710.86H1401.54V713.12H1425.89V714.21H1450.24V714.65H1474.59V714.78H1498.94" stroke="#FDE725"/></g>
</g>
<rect x="880.00" y="402.60" width="647.90" height="326.70" fill="none" stroke="#1E1E1E" stroke-width="2"/>
<line x1="871.10" x2="880.00" y1="714.80" y2="714.80" stroke="#1E1E1E" stroke-width="3.0"/>
<text x="864.40" y="723.70" font-size="24.4" text-anchor="end" fill="#4D4D4D">0.00</text>
<line x1="871.10" x2="880.00" y1="675.10" y2="675.10" stroke="#1E1E1E" stroke-width="3.0"/>
<text x="864.40" y="684.00" font-size="24.4" text-anchor="end" fill="#4D4D4D">0.02</text>
<line x1="871.10" x2="880.00" y1="635.40" y2="635.40" stroke="#1E1E1E" stroke-width="3.0"/>
<text x="864.40" y="644.30" font-size="24.4" text-anchor="end" fill="#4D4D4D">0.04</text>
<line x1="871.10" x2="880.00" y1="595.70" y2="595.70" stroke="#1E1E1E" stroke-width="3.0"/>
<text x="864.40" y="604.60" font-size="24.4" text-anchor="end" fill="#4D4D4D">0.06</text>
<line x1="871.10" x2="880.00" y1="556.00" y2="556.00" stroke="#1E1E1E" stroke-width="3.0"/>
<text x="864.40" y="564.90" font-size="24.4" text-anchor="end" fill="#4D4D4D">0.08</text>
<line x1="871.10" x2="880.00" y1="516.30" y2="516.30" stroke="#1E1E1E" stroke-width="3.0"/>
<text x="864.40" y="525.20" font-size="24.4" text-anchor="end" fill="#4D4D4D">0.10</text>
<line x1="908.45" x2="908.45" y1="729.30" y2="737.60" stroke="#1E1E1E" stroke-width="3.0"/>
<text x="908.45" y="762.20" font-size="24.4" text-anchor="middle" fill="#4D4D4D">4</text>
<line x1="1054.55" x2="1054.55" y1="729.30" y2="737.60" stroke="#1E1E1E" stroke-width="3.0"/>
<text x="1054.55" y="762.20" font-size="24.4" text-anchor="middle" fill="#4D4D4D">10</text>
<line x1="1200.65" x2="1200.65" y1="729.30" y2="737.60" stroke="#1E1E1E" stroke-width="3.0"/>
<text x="1200.65" y="762.20" font-size="24.4" text-anchor="middle" fill="#4D4D4D">16</text>
<line x1="1346.75" x2="1346.75" y1="729.30" y2="737.60" stroke="#1E1E1E" stroke-width="3.0"/>
<text x="1346.75" y="762.20" font-size="24.4" text-anchor="middle" fill="#4D4D4D">22</text>
<line x1="1492.85" x2="1492.85" y1="729.30" y2="737.60" stroke="#1E1E1E" stroke-width="3.0"/>
<text x="1492.85" y="762.20" font-size="24.4" text-anchor="middle" fill="#4D4D4D">28</text>
<g clip-path="url(#cp4)">
<line x1="138.70" x2="786.60" y1="1090.05" y2="1090.05" stroke="#EBEBEB" stroke-width="1.3"/>
<line x1="138.70" x2="786.60" y1="1050.35" y2="1050.35" stroke="#EBEBEB" stroke-width="1.3"/>
<line x1="138.70" x2="786.60" y1="1010.65" y2="1010.65" stroke="#EBEBEB" stroke-width="1.3"/>
<line x1="138.70" x2="786.60" y1="970.95" y2="970.95" stroke="#EBEBEB" stroke-width="1.3"/>
<line x1="138.70" x2="786.60" y1="931.25" y2="931.25" stroke="#EBEBEB" stroke-width="1.3"/>
<line x1="138.70" x2="786.60" y1="891.55" y2="891.55" stroke="#EBEBEB" stroke-width="1.3"/>
<line x1="138.70" x2="786.60" y1="871.70" y2="871.70" stroke="#EBEBEB" stroke-width="1.3"/>
<line x1="240.15" x2="240.15" y1="797.70" y2="1124.40" stroke="#EBEBEB" stroke-width="1.3"/>
<line x1="386.25" x2="386.25" y1="797.70" y2="1124.40" stroke="#EBEBEB" stroke-width="1.3"/>
<line x1="532.35" x2="532.35" y1="797.70" y2="1124.40" stroke="#EBEBEB" stroke-width="1.3"/>
<line x1="678.45" x2="678.45" y1="797.70" y2="1124.40" stroke="#EBEBEB" stroke-width="1.3"/>
<line x1="138.70" x2="786.60" y1="1109.90" y2="1109.90" stroke="#EBEBEB" stroke-width="2.5"/>
<line x1="138.70" x2="786.60" y1="1070.20" y2="1070.20" stroke="#EBEBEB" stroke-width="2.5"/>
<line x1="138.70" x2="786.60" y1="1030.50" y2="1030.50" stroke="#EBEBEB" stroke-width="2.5"/>
<line x1="138.70" x2="786.60" y1="990.80" y2="990.80" stroke="#EBEBEB" stroke-width="2.5"/>
<line x1="138.70" x2="786.60" y1="951.10" y2="951.10" stroke="#EBEBEB" stroke-width="2.5"/>
<line x1="138.70" x2="786.60" y1="911.40" y2="911.40" stroke="#EBEBEB" stroke-width="2.5"/>
<line x1="167.10" x2="167.10" y1="797.70" y2="1124.40" stroke="#EBEBEB" stroke-width="2.5"/>
<line x1="313.20" x2="313.20" y1="797.70" y2="1124.40" stroke="#EBEBEB" stroke-width="2.5"/>
<line x1="459.30" x2="459.30" y1="797.70" y2="1124.40" stroke="#EBEBEB" stroke-width="2.5"/>
<line x1="605.40" x2="605.40" y1="797.70" y2="1124.40" stroke="#EBEBEB" stroke-width="2.5"/>
<line x1="751.50" x2="751.50" y1="797.70" y2="1124.40" stroke="#EBEBEB" stroke-width="2.5"/>
<text x="763.30" y="834.00" font-size="18.1" text-anchor="end" fill="#000">depressed score</text>
<rect x="502.20" y="844.40" width="262.50" height="22.00" fill="url(#vir)"/>
<line x1="522.06" x2="522.06" y1="844.40" y2="848.80" stroke="#fff" stroke-width="1.1"/>
<line x1="522.06" x2="522.06" y1="862.00" y2="866.40" stroke="#fff" stroke-width="1.1"/>
<text x="522.06" y="888.10" font-size="18.1" text-anchor="middle" fill="#000">4</text>
<line x1="596.32" x2="596.32" y1="844.40" y2="848.80" stroke="#fff" stroke-width="1.1"/>
<line x1="596.32" x2="596.32" y1="862.00" y2="866.40" stroke="#fff" stroke-width="1.1"/>
<text x="596.32" y="888.10" font-size="18.1" text-anchor="middle" fill="#000">8</text>
<line x1="670.58" x2="670.58" y1="844.40" y2="848.80" stroke="#fff" stroke-width="1.1"/>
<line x1="670.58" x2="670.58" y1="862.00" y2="866.40" stroke="#fff" stroke-width="1.1"/>
<text x="670.58" y="888.10" font-size="18.1" text-anchor="middle" fill="#000">12</text>
<line x1="744.84" x2="744.84" y1="844.40" y2="848.80" stroke="#fff" stroke-width="1.1"/>
<line x1="744.84" x2="744.84" y1="862.00" y2="866.40" stroke="#fff" stroke-width="1.1"/>
<text x="744.84" y="888.10" font-size="18.1" text-anchor="middle" fill="#000">16</text>
<g fill="none" stroke-width="3.00" stroke-linejoin="round" stroke-opacity="0.55"><path d="M167.10 1101.96V1086.87H191.45V1061.27H215.80V1026.93H240.15V987.23H264.50V952.29H288.85V925.10H313.20V909.61H337.55V906.68H361.90V915.97H386.25V934.03H410.60V958.44H434.95V985.84H459.30V1012.24H483.65V1036.88H508.00V1058.72H532.35V1076.17H556.70V1089.16H581.05V1098.12H605.40V1103.82H629.75V1107.11H654.10V1108.80H678.45V1109.55H702.80V1109.82H727.15V1109.89H751.50" stroke="#440154"/><path d="M167.53 1101.85V1086.27H191.88V1060.05H216.23V1025.21H240.58V985.37H264.93V950.54H289.28V923.72H313.63V908.85H337.98V906.42H362.33V916.34H386.68V934.95H411.03V959.69H435.38V987.21H459.73V1013.63H484.08V1038.13H508.43V1059.75H532.78V1076.96H557.13V1089.70H581.48V1098.47H605.83V1104.02H630.18V1107.21H654.53V1108.84H678.88V1109.56H703.23V1109.82H727.58V1109.89H751.93" stroke="#481B6D"/><path d="M167.97 1101.73V1085.65H192.32V1058.82H216.67V1023.47H241.02V983.50H265.37V948.80H289.72V922.36H314.07V908.11H338.42V906.19H362.77V916.74H387.12V935.89H411.47V960.94H435.82V988.59H460.17V1015.02H484.52V1039.37H508.87V1060.77H533.22V1077.73H557.57V1090.24H581.92V1098.81H606.27V1104.21H630.62V1107.31H654.97V1108.88H679.32V1109.58H703.67V1109.83H728.02V1109.89H752.37" stroke="#46327E"/><path d="M168.40 1101.61V1085.01H192.75V1057.56H217.10V1021.71H241.45V981.63H265.80V947.06H290.15V921.01H314.50V907.40H338.85V905.99H363.20V917.18H387.55V936.86H411.90V962.20H436.25V989.97H460.60V1016.41H484.95V1040.60H509.30V1061.78H533.65V1078.48H558.00V1090.76H582.35V1099.14H606.70V1104.40H631.05V1107.40H655.40V1108.92H679.75V1109.59H704.10V1109.83H728.45V1109.89H752.80" stroke="#3F4788"/><path d="M168.84 1101.48V1084.36H193.19V1056.29H217.54V1019.94H241.89V979.74H266.24V945.32H290.59V919.69H314.94V906.71H339.29V905.82H363.64V917.64H387.99V937.84H412.34V963.48H436.69V991.35H461.04V1017.78H485.39V1041.82H509.74V1062.77H534.09V1079.22H558.44V1091.27H582.79V1099.46H607.14V1104.58H631.49V1107.49H655.84V1108.96H680.19V1109.60H704.54V1109.83H728.89V1109.89H753.24" stroke="#365C8D"/><path d="M169.27 1101.34V1083.69H193.62V1054.99H217.97V1018.15H242.32V977.85H266.67V943.60H291.02V918.39H315.37V906.06H339.72V905.69H364.07V918.12H388.42V938.85H412.77V964.76H437.12V992.73H461.47V1019.15H485.82V1043.02H510.17V1063.74H534.52V1079.95H558.87V1091.77H583.22V1099.77H607.57V1104.76H631.92V1107.58H656.27V1109.00H680.62V1109.62H704.97V1109.84H729.32V1109.89H753.67" stroke="#2E6E8E"/><path d="M169.71 1101.20V1083.01H194.06V1053.67H218.41V1016.35H242.76V975.96H267.11V941.88H291.46V917.11H315.81V905.43H340.16V905.58H364.51V918.64H388.86V939.87H413.21V966.06H437.56V994.11H461.91V1020.51H486.26V1044.22H510.61V1064.70H534.96V1080.67H559.31V1092.26H583.66V1100.08H608.01V1104.93H632.36V1107.67H656.71V1109.04H681.06V1109.63H705.41V1109.84H729.76V1109.89H754.11" stroke="#277F8E"/><path d="M170.14 1101.05V1082.31H194.49V1052.34H218.84V1014.52H243.19V974.06H267.54V940.17H291.89V915.84H316.24V904.83H340.59V905.51H364.94V919.18H389.29V940.92H413.64V967.36H437.99V995.48H462.34V1021.87H486.69V1045.40H511.04V1065.65H535.39V1081.37H559.74V1092.74H584.09V1100.38H608.44V1105.10H632.79V1107.75H657.14V1109.07H681.49V1109.64H705.84V1109.84H730.19V1109.89H754.54" stroke="#21918C"/><path d="M170.58 1100.89V1081.60H194.93V1050.98H219.28V1012.68H243.63V972.15H267.98V938.47H292.33V914.60H316.68V904.26H341.03V905.46H365.38V919.75H389.73V941.98H414.08V968.68H438.43V996.86H462.78V1023.21H487.13V1046.56H511.48V1066.58H535.83V1082.05H560.18V1093.20H584.53V1100.66H608.88V1105.26H633.23V1107.83H657.58V1109.11H681.93V1109.65H706.28V1109.84H730.63V1109.89H754.98" stroke="#1FA187"/><path d="M171.01 1100.72V1080.87H195.36V1049.60H219.71V1010.83H244.06V970.24H268.41V936.77H292.76V913.38H317.11V903.72H341.46V905.45H365.81V920.35H390.16V943.06H414.51V970.00H438.86V998.24H463.21V1024.55H487.56V1047.72H511.91V1067.50H536.26V1082.73H560.61V1093.66H584.96V1100.95H609.31V1105.41H633.66V1107.90H658.01V1109.14H682.36V1109.66H706.71V1109.85H731.06V1109.89H755.41" stroke="#2DB27D"/><path d="M171.45 1100.55V1080.12H195.80V1048.21H220.15V1008.96H244.50V968.32H268.85V935.09H293.20V912.19H317.55V903.21H341.90V905.47H366.25V920.97H390.60V944.16H414.95V971.33H439.30V999.62H463.65V1025.88H488.00V1048.86H512.35V1068.40H536.70V1083.39H561.05V1094.10H585.40V1101.22H609.75V1105.57H634.10V1107.98H658.45V1109.17H682.80V1109.67H707.15V1109.85H731.50V1109.89H755.85" stroke="#4AC16D"/><path d="M171.88 1100.37V1079.35H196.23V1046.79H220.58V1007.07H244.93V966.40H269.28V933.42H293.63V911.01H317.98V902.73H342.33V905.52H366.68V921.62H391.03V945.28H415.38V972.66H439.73V1000.99H464.08V1027.20H488.43V1049.99H512.78V1069.29H537.13V1084.04H561.48V1094.54H585.83V1101.48H610.18V1105.71H634.53V1108.05H658.88V1109.20H683.23V1109.68H707.58V1109.85H731.93V1109.89H756.28" stroke="#73D056"/><path d="M172.32 1100.18V1078.57H196.67V1045.35H221.02V1005.17H245.37V964.48H269.72V931.76H294.07V909.86H318.42V902.28H342.77V905.59H367.12V922.29H391.47V946.41H415.82V974.00H440.17V1002.36H464.52V1028.51H488.87V1051.10H513.22V1070.17H537.57V1084.67H561.92V1094.96H586.27V1101.74H610.62V1105.86H634.97V1108.12H659.32V1109.23H683.67V1109.69H708.02V1109.85H732.37V1109.89H756.72" stroke="#A0DA39"/><path d="M172.75 1099.98V1077.77H197.10V1043.89H221.45V1003.25H245.80V962.56H270.15V930.11H294.50V908.73H318.85V901.86H343.20V905.70H367.55V922.99H391.90V947.55H416.25V975.35H440.60V1003.73H464.95V1029.81H489.30V1052.20H513.65V1071.03H538.00V1085.30H562.35V1095.38H586.70V1102.00H611.05V1105.99H635.40V1108.19H659.75V1109.25H684.10V1109.70H708.45V1109.86H732.80V1109.89H757.15" stroke="#D0E11C"/><path d="M173.19 1099.78V1076.95H197.54V1042.41H221.89V1001.32H246.24V960.63H270.59V928.47H294.94V907.63H319.29V901.48H343.64V905.84H367.99V923.71H392.34V948.72H416.69V976.71H441.04V1005.09H465.39V1031.10H489.74V1053.29H514.09V1071.88H538.44V1085.91H562.79V1095.78H587.14V1102.24H611.49V1106.13H635.84V1108.25H660.19V1109.28H684.54V1109.71H708.89V1109.86H733.24V1109.89H757.59" stroke="#FDE725"/></g>
</g>
<rect x="138.70" y="797.70" width="647.90" height="326.70" fill="none" stroke="#1E1E1E" stroke-width="2"/>
<line x1="129.80" x2="138.70" y1="1109.90" y2="1109.90" stroke="#1E1E1E" stroke-width="3.0"/>
<text x="123.10" y="1118.80" font-size="24.4" text-anchor="end" fill="#4D4D4D">0.00</text>
<line x1="129.80" x2="138.70" y1="1070.20" y2="1070.20" stroke="#1E1E1E" stroke-width="3.0"/>
<text x="123.10" y="1079.10" font-size="24.4" text-anchor="end" fill="#4D4D4D">0.02</text>
<line x1="129.80" x2="138.70" y1="1030.50" y2="1030.50" stroke="#1E1E1E" stroke-width="3.0"/>
<text x="123.10" y="1039.40" font-size="24.4" text-anchor="end" fill="#4D4D4D">0.04</text>
<line x1="129.80" x2="138.70" y1="990.80" y2="990.80" stroke="#1E1E1E" stroke-width="3.0"/>
<text x="123.10" y="999.70" font-size="24.4" text-anchor="end" fill="#4D4D4D">0.06</text>
<line x1="129.80" x2="138.70" y1="951.10" y2="951.10" stroke="#1E1E1E" stroke-width="3.0"/>
<text x="123.10" y="960.00" font-size="24.4" text-anchor="end" fill="#4D4D4D">0.08</text>
<line x1="129.80" x2="138.70" y1="911.40" y2="911.40" stroke="#1E1E1E" stroke-width="3.0"/>
<text x="123.10" y="920.30" font-size="24.4" text-anchor="end" fill="#4D4D4D">0.10</text>
<line x1="167.10" x2="167.10" y1="1124.40" y2="1132.70" stroke="#1E1E1E" stroke-width="3.0"/>
<text x="167.10" y="1157.30" font-size="24.4" text-anchor="middle" fill="#4D4D4D">4</text>
<line x1="313.20" x2="313.20" y1="1124.40" y2="1132.70" stroke="#1E1E1E" stroke-width="3.0"/>
<text x="313.20" y="1157.30" font-size="24.4" text-anchor="middle" fill="#4D4D4D">10</text>
<line x1="459.30" x2="459.30" y1="1124.40" y2="1132.70" stroke="#1E1E1E" stroke-width="3.0"/>
<text x="459.30" y="1157.30" font-size="24.4" text-anchor="middle" fill="#4D4D4D">16</text>
<line x1="605.40" x2="605.40" y1="1124.40" y2="1132.70" stroke="#1E1E1E" stroke-width="3.0"/>
<text x="605.40" y="1157.30" font-size="24.4" text-anchor="middle" fill="#4D4D4D">22</text>
<line x1="751.50" x2="751.50" y1="1124.40" y2="1132.70" stroke="#1E1E1E" stroke-width="3.0"/>
<text x="751.50" y="1157.30" font-size="24.4" text-anchor="middle" fill="#4D4D4D">28</text>
<g clip-path="url(#cp5)">
<line x1="880.00" x2="1527.90" y1="1090.05" y2="1090.05" stroke="#EBEBEB" stroke-width="1.3"/>
<line x1="880.00" x2="1527.90" y1="1050.35" y2="1050.35" stroke="#EBEBEB" stroke-width="1.3"/>
<line x1="880.00" x2="1527.90" y1="1010.65" y2="1010.65" stroke="#EBEBEB" stroke-width="1.3"/>
<line x1="880.00" x2="1527.90" y1="970.95" y2="970.95" stroke="#EBEBEB" stroke-width="1.3"/>
<line x1="880.00" x2="1527.90" y1="931.25" y2="931.25" stroke="#EBEBEB" stroke-width="1.3"/>
<line x1="880.00" x2="1527.90" y1="891.55" y2="891.55" stroke="#EBEBEB" stroke-width="1.3"/>
<line x1="880.00" x2="1527.90" y1="871.70" y2="871.70" stroke="#EBEBEB" stroke-width="1.3"/>
<line x1="981.50" x2="981.50" y1="797.70" y2="1124.40" stroke="#EBEBEB" stroke-width="1.3"/>
<line x1="1127.60" x2="1127.60" y1="797.70" y2="1124.40" stroke="#EBEBEB" stroke-width="1.3"/>
<line x1="1273.70" x2="1273.70" y1="797.70" y2="1124.40" stroke="#EBEBEB" stroke-width="1.3"/>
<line x1="1419.80" x2="1419.80" y1="797.70" y2="1124.40" stroke="#EBEBEB" stroke-width="1.3"/>
<line x1="880.00" x2="1527.90" y1="1109.90" y2="1109.90" stroke="#EBEBEB" stroke-width="2.5"/>
<line x1="880.00" x2="1527.90" y1="1070.20" y2="1070.20" stroke="#EBEBEB" stroke-width="2.5"/>
<line x1="880.00" x2="1527.90" y1="1030.50" y2="1030.50" stroke="#EBEBEB" stroke-width="2.5"/>
<line x1="880.00" x2="1527.90" y1="990.80" y2="990.80" stroke="#EBEBEB" stroke-width="2.5"/>
<line x1="880.00" x2="1527.90" y1="951.10" y2="951.10" stroke="#EBEBEB" stroke-width="2.5"/>
<line x1="880.00" x2="1527.90" y1="911.40" y2="911.40" stroke="#EBEBEB" stroke-width="2.5"/>
<line x1="908.45" x2="908.45" y1="797.70" y2="1124.40" stroke="#EBEBEB" stroke-width="2.5"/>
<line x1="1054.55" x2="1054.55" y1="797.70" y2="1124.40" stroke="#EBEBEB" stroke-width="2.5"/>
<line x1="1200.65" x2="1200.65" y1="797.70" y2="1124.40" stroke="#EBEBEB" stroke-width="2.5"/>
<line x1="1346.75" x2="1346.75" y1="797.70" y2="1124.40" stroke="#EBEBEB" stroke-width="2.5"/>
<line x1="1492.85" x2="1492.85" y1="797.70" y2="1124.40" stroke="#EBEBEB" stroke-width="2.5"/>
<text x="1504.50" y="834.00" font-size="18.1" text-anchor="end" fill="#000">psychiatric diagnosis</text>
<line x1="1331.50" x2="1373.10" y1="870.40" y2="870.40" stroke="#440154" stroke-width="3.0"/>
<text x="1388.10" y="876.70" font-size="18.1" fill="#000">SA</text>
<line x1="1425.90" x2="1467.80" y1="870.40" y2="870.40" stroke="#FDE725" stroke-width="3.0"/>
<text x="1482.80" y="876.70" font-size="18.1" fill="#000">SZ</text>
<g fill="none" stroke-width="3.00" stroke-linejoin="round"><path d="M908.45 1100.57V1080.52H932.80V1049.95H957.15V1012.24H981.50V974.13H1005.85V941.97H1030.20V919.94H1054.55V909.42H1078.90V911.80H1103.25V924.30H1127.60V944.15H1151.95V968.57H1176.30V994.77H1200.65V1019.58H1225.00V1042.65H1249.35V1062.70H1273.70V1078.65H1298.05V1090.54H1322.40V1098.78H1346.75V1104.08H1371.10V1107.18H1395.45V1108.80H1419.80V1109.54H1444.15V1109.81H1468.50V1109.89H1492.85" stroke="#440154"/><path d="M914.54 1101.56V1086.08H938.89V1057.30H963.24V1020.58H987.59V980.88H1011.94V944.95H1036.29V918.74H1060.64V904.45H1084.99V904.45H1109.34V916.56H1133.69V937.60H1158.04V963.80H1182.39V991.40H1206.74V1018.39H1231.09V1042.63H1255.44V1063.65H1279.79V1080.03H1304.14V1091.93H1328.49V1099.93H1352.84V1104.88H1377.19V1107.66H1401.54V1109.04H1425.89V1109.63H1450.24V1109.84H1474.59V1109.89H1498.94" stroke="#FDE725"/></g>
</g>
<rect x="880.00" y="797.70" width="647.90" height="326.70" fill="none" stroke="#1E1E1E" stroke-width="2"/>
<line x1="871.10" x2="880.00" y1="1109.90" y2="1109.90" stroke="#1E1E1E" stroke-width="3.0"/>
<text x="864.40" y="1118.80" font-size="24.4" text-anchor="end" fill="#4D4D4D">0.00</text>
<line x1="871.10" x2="880.00" y1="1070.20" y2="1070.20" stroke="#1E1E1E" stroke-width="3.0"/>
<text x="864.40" y="1079.10" font-size="24.4" text-anchor="end" fill="#4D4D4D">0.02</text>
<line x1="871.10" x2="880.00" y1="1030.50" y2="1030.50" stroke="#1E1E1E" stroke-width="3.0"/>
<text x="864.40" y="1039.40" font-size="24.4" text-anchor="end" fill="#4D4D4D">0.04</text>
<line x1="871.10" x2="880.00" y1="990.80" y2="990.80" stroke="#1E1E1E" stroke-width="3.0"/>
<text x="864.40" y="999.70" font-size="24.4" text-anchor="end" fill="#4D4D4D">0.06</text>
<line x1="871.10" x2="880.00" y1="951.10" y2="951.10" stroke="#1E1E1E" stroke-width="3.0"/>
<text x="864.40" y="960.00" font-size="24.4" text-anchor="end" fill="#4D4D4D">0.08</text>
<line x1="871.10" x2="880.00" y1="911.40" y2="911.40" stroke="#1E1E1E" stroke-width="3.0"/>
<text x="864.40" y="920.30" font-size="24.4" text-anchor="end" fill="#4D4D4D">0.10</text>
<line x1="908.45" x2="908.45" y1="1124.40" y2="1132.70" stroke="#1E1E1E" stroke-width="3.0"/>
<text x="908.45" y="1157.30" font-size="24.4" text-anchor="middle" fill="#4D4D4D">4</text>
<line x1="1054.55" x2="1054.55" y1="1124.40" y2="1132.70" stroke="#1E1E1E" stroke-width="3.0"/>
<text x="1054.55" y="1157.30" font-size="24.4" text-anchor="middle" fill="#4D4D4D">10</text>
<line x1="1200.65" x2="1200.65" y1="1124.40" y2="1132.70" stroke="#1E1E1E" stroke-width="3.0"/>
<text x="1200.65" y="1157.30" font-size="24.4" text-anchor="middle" fill="#4D4D4D">16</text>
<line x1="1346.75" x2="1346.75" y1="1124.40" y2="1132.70" stroke="#1E1E1E" stroke-width="3.0"/>
<text x="1346.75" y="1157.30" font-size="24.4" text-anchor="middle" fill="#4D4D4D">22</text>
<line x1="1492.85" x2="1492.85" y1="1124.40" y2="1132.70" stroke="#1E1E1E" stroke-width="3.0"/>
<text x="1492.85" y="1157.30" font-size="24.4" text-anchor="middle" fill="#4D4D4D">28</text>
<g clip-path="url(#cp6)">
<line x1="138.70" x2="786.60" y1="1485.15" y2="1485.15" stroke="#EBEBEB" stroke-width="1.3"/>
<line x1="138.70" x2="786.60" y1="1445.45" y2="1445.45" stroke="#EBEBEB" stroke-width="1.3"/>
<line x1="138.70" x2="786.60" y1="1405.75" y2="1405.75" stroke="#EBEBEB" stroke-width="1.3"/>
<line x1="138.70" x2="786.60" y1="1366.05" y2="1366.05" stroke="#EBEBEB" stroke-width="1.3"/>
<line x1="138.70" x2="786.60" y1="1326.35" y2="1326.35" stroke="#EBEBEB" stroke-width="1.3"/>
<line x1="138.70" x2="786.60" y1="1286.65" y2="1286.65" stroke="#EBEBEB" stroke-width="1.3"/>
<line x1="138.70" x2="786.60" y1="1266.80" y2="1266.80" stroke="#EBEBEB" stroke-width="1.3"/>
<line x1="240.15" x2="240.15" y1="1192.80" y2="1519.50" stroke="#EBEBEB" stroke-width="1.3"/>
<line x1="386.25" x2="386.25" y1="1192.80" y2="1519.50" stroke="#EBEBEB" stroke-width="1.3"/>
<line x1="532.35" x2="532.35" y1="1192.80" y2="1519.50" stroke="#EBEBEB" stroke-width="1.3"/>
<line x1="678.45" x2="678.45" y1="1192.80" y2="1519.50" stroke="#EBEBEB" stroke-width="1.3"/>
<line x1="138.70" x2="786.60" y1="1505.00" y2="1505.00" stroke="#EBEBEB" stroke-width="2.5"/>
<line x1="138.70" x2="786.60" y1="1465.30" y2="1465.30" stroke="#EBEBEB" stroke-width="2.5"/>
<line x1="138.70" x2="786.60" y1="1425.60" y2="1425.60" stroke="#EBEBEB" stroke-width="2.5"/>
<line x1="138.70" x2="786.60" y1="1385.90" y2="1385.90" stroke="#EBEBEB" stroke-width="2.5"/>
<line x1="138.70" x2="786.60" y1="1346.20" y2="1346.20" stroke="#EBEBEB" stroke-width="2.5"/>
<line x1="138.70" x2="786.60" y1="1306.50" y2="1306.50" stroke="#EBEBEB" stroke-width="2.5"/>
<line x1="167.10" x2="167.10" y1="1192.80" y2="1519.50" stroke="#EBEBEB" stroke-width="2.5"/>
<line x1="313.20" x2="313.20" y1="1192.80" y2="1519.50" stroke="#EBEBEB" stroke-width="2.5"/>
<line x1="459.30" x2="459.30" y1="1192.80" y2="1519.50" stroke="#EBEBEB" stroke-width="2.5"/>
<line x1="605.40" x2="605.40" y1="1192.80" y2="1519.50" stroke="#EBEBEB" stroke-width="2.5"/>
<line x1="751.50" x2="751.50" y1="1192.80" y2="1519.50" stroke="#EBEBEB" stroke-width="2.5"/>
<text x="763.30" y="1229.10" font-size="18.1" text-anchor="end" fill="#000">prior clozapine trial</text>
<line x1="589.20" x2="630.90" y1="1265.50" y2="1265.50" stroke="#440154" stroke-width="3.0"/>
<text x="645.70" y="1271.80" font-size="18.1" fill="#000">no</text>
<line x1="679.90" x2="721.50" y1="1265.50" y2="1265.50" stroke="#FDE725" stroke-width="3.0"/>
<text x="736.50" y="1271.80" font-size="18.1" fill="#000">yes</text>
<g fill="none" stroke-width="3.00" stroke-linejoin="round"><path d="M167.10 1494.88V1473.84H191.45V1441.28H215.80V1403.96H240.15V1368.04H264.50V1338.06H288.85V1318.01H313.20V1309.28H337.55V1312.06H361.90V1323.97H386.25V1342.83H410.60V1365.45H434.95V1389.67H459.30V1414.09H483.65V1435.92H508.00V1455.38H532.35V1470.46H556.70V1482.37H581.05V1490.11H605.40V1495.87H629.75V1500.43H654.10V1502.42H678.45V1503.61H702.80V1504.40H727.15V1504.80H751.50" stroke="#440154"/><path d="M173.19 1499.44V1484.36H197.54V1457.36H221.89V1419.65H246.24V1377.56H270.59V1339.45H294.94V1310.67H319.29V1295.19H343.64V1294.59H367.99V1307.10H392.34V1328.73H416.69V1356.52H441.04V1386.30H465.39V1413.89H489.74V1436.91H514.09V1456.76H538.44V1472.84H562.79V1483.76H587.14V1491.50H611.49V1497.06H635.84V1500.43H660.19V1504.26H684.54V1504.78H708.89V1504.95H733.24V1504.99H757.59" stroke="#FDE725"/></g>
</g>
<rect x="138.70" y="1192.80" width="647.90" height="326.70" fill="none" stroke="#1E1E1E" stroke-width="2"/>
<line x1="129.80" x2="138.70" y1="1505.00" y2="1505.00" stroke="#1E1E1E" stroke-width="3.0"/>
<text x="123.10" y="1513.90" font-size="24.4" text-anchor="end" fill="#4D4D4D">0.00</text>
<line x1="129.80" x2="138.70" y1="1465.30" y2="1465.30" stroke="#1E1E1E" stroke-width="3.0"/>
<text x="123.10" y="1474.20" font-size="24.4" text-anchor="end" fill="#4D4D4D">0.02</text>
<line x1="129.80" x2="138.70" y1="1425.60" y2="1425.60" stroke="#1E1E1E" stroke-width="3.0"/>
<text x="123.10" y="1434.50" font-size="24.4" text-anchor="end" fill="#4D4D4D">0.04</text>
<line x1="129.80" x2="138.70" y1="1385.90" y2="1385.90" stroke="#1E1E1E" stroke-width="3.0"/>
<text x="123.10" y="1394.80" font-size="24.4" text-anchor="end" fill="#4D4D4D">0.06</text>
<line x1="129.80" x2="138.70" y1="1346.20" y2="1346.20" stroke="#1E1E1E" stroke-width="3.0"/>
<text x="123.10" y="1355.10" font-size="24.4" text-anchor="end" fill="#4D4D4D">0.08</text>
<line x1="129.80" x2="138.70" y1="1306.50" y2="1306.50" stroke="#1E1E1E" stroke-width="3.0"/>
<text x="123.10" y="1315.40" font-size="24.4" text-anchor="end" fill="#4D4D4D">0.10</text>
<line x1="167.10" x2="167.10" y1="1519.50" y2="1527.80" stroke="#1E1E1E" stroke-width="3.0"/>
<text x="167.10" y="1552.40" font-size="24.4" text-anchor="middle" fill="#4D4D4D">4</text>
<line x1="313.20" x2="313.20" y1="1519.50" y2="1527.80" stroke="#1E1E1E" stroke-width="3.0"/>
<text x="313.20" y="1552.40" font-size="24.4" text-anchor="middle" fill="#4D4D4D">10</text>
<line x1="459.30" x2="459.30" y1="1519.50" y2="1527.80" stroke="#1E1E1E" stroke-width="3.0"/>
<text x="459.30" y="1552.40" font-size="24.4" text-anchor="middle" fill="#4D4D4D">16</text>
<line x1="605.40" x2="605.40" y1="1519.50" y2="1527.80" stroke="#1E1E1E" stroke-width="3.0"/>
<text x="605.40" y="1552.40" font-size="24.4" text-anchor="middle" fill="#4D4D4D">22</text>
<line x1="751.50" x2="751.50" y1="1519.50" y2="1527.80" stroke="#1E1E1E" stroke-width="3.0"/>
<text x="751.50" y="1552.40" font-size="24.4" text-anchor="middle" fill="#4D4D4D">28</text>
<text x="802.3" y="1601.0" font-size="24.2" text-anchor="middle" fill="#000">total score on the positive factor around the time of discharge</text>
<text transform="translate(26.5,809.0) rotate(-90)" font-size="24.4" text-anchor="middle" fill="#000">conditional probability</text>
</svg></body></html>
